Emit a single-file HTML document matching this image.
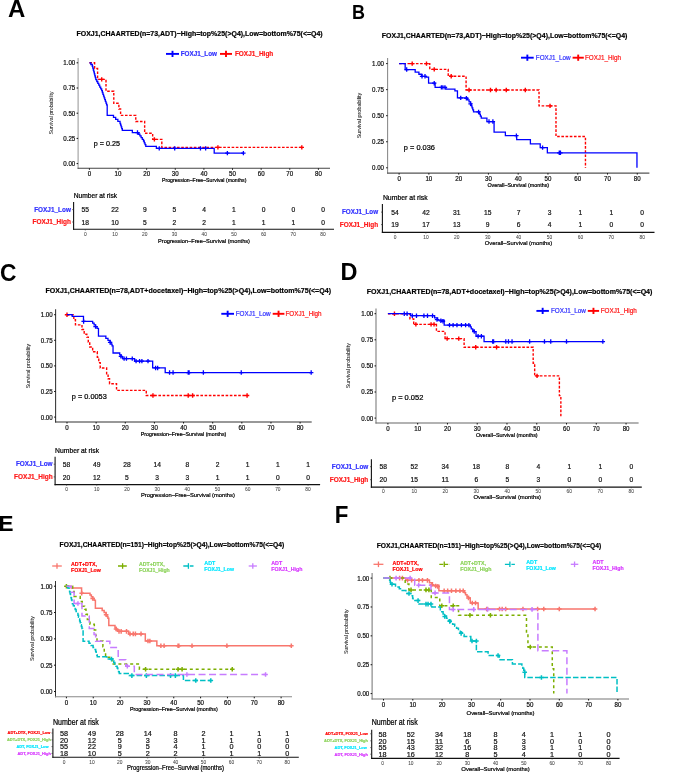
<!DOCTYPE html>
<html><head><meta charset="utf-8"><style>
html,body{margin:0;padding:0;background:#fff;width:685px;height:776px;overflow:hidden}
svg{display:block;font-family:"Liberation Sans", sans-serif;will-change:transform}
text{stroke-linejoin:round}
</style></head><body>
<svg width="685" height="776" viewBox="0 0 685 776">
<rect width="685" height="776" fill="#fff"/>
<text x="8.00" y="16.79" font-size="24.00" text-anchor="start" fill="#000" font-weight="bold" textLength="17.33" lengthAdjust="spacingAndGlyphs">A</text>
<text x="199.60" y="35.90" font-size="7.40" text-anchor="middle" fill="#000" font-weight="bold" textLength="246.20" lengthAdjust="spacingAndGlyphs" stroke="#000" stroke-width="0.2">FOXJ1,CHAARTED(n=73,ADT)−High=top%25(&gt;Q4),Low=bottom%75(&lt;=Q4)</text>
<line x1="166.00" y1="53.90" x2="179.00" y2="53.90" stroke="#0000FF" stroke-width="1.9"/>
<line x1="172.50" y1="50.80" x2="172.50" y2="57.00" stroke="#0000FF" stroke-width="1.9"/>
<text x="180.70" y="56.41" font-size="7.00" text-anchor="start" fill="#3333FF" font-weight="bold" textLength="36.30" lengthAdjust="spacingAndGlyphs" stroke="#3333FF" stroke-width="0.2">FOXJ1_Low</text>
<line x1="220.00" y1="53.90" x2="232.00" y2="53.90" stroke="#FF0000" stroke-width="1.9"/>
<line x1="226.00" y1="50.80" x2="226.00" y2="57.00" stroke="#FF0000" stroke-width="1.9"/>
<text x="234.90" y="56.41" font-size="7.00" text-anchor="start" fill="#FF1A1A" font-weight="bold" textLength="38.40" lengthAdjust="spacingAndGlyphs" stroke="#FF1A1A" stroke-width="0.2">FOXJ1_High</text>
<text transform="translate(53.00,112.90) rotate(-90)" x="0" y="0" font-size="5.15" text-anchor="middle" fill="#222" textLength="43.20" lengthAdjust="spacingAndGlyphs" stroke="#222" stroke-width="0.05">Survival probability</text>
<line x1="78.10" y1="58.00" x2="78.10" y2="168.83" stroke="#999" stroke-width="1.05"/>
<line x1="77.57" y1="168.30" x2="330.00" y2="168.30" stroke="#444" stroke-width="1.05"/>
<line x1="76.60" y1="62.80" x2="78.10" y2="62.80" stroke="#111" stroke-width="1.0"/>
<text x="75.30" y="65.23" font-size="6.80" text-anchor="end" fill="#111" textLength="11.99" lengthAdjust="spacingAndGlyphs" stroke="#111" stroke-width="0.22">1.00</text>
<line x1="76.60" y1="88.00" x2="78.10" y2="88.00" stroke="#111" stroke-width="1.0"/>
<text x="75.30" y="90.43" font-size="6.80" text-anchor="end" fill="#111" textLength="11.99" lengthAdjust="spacingAndGlyphs" stroke="#111" stroke-width="0.22">0.75</text>
<line x1="76.60" y1="113.20" x2="78.10" y2="113.20" stroke="#111" stroke-width="1.0"/>
<text x="75.30" y="115.63" font-size="6.80" text-anchor="end" fill="#111" textLength="11.99" lengthAdjust="spacingAndGlyphs" stroke="#111" stroke-width="0.22">0.50</text>
<line x1="76.60" y1="138.40" x2="78.10" y2="138.40" stroke="#111" stroke-width="1.0"/>
<text x="75.30" y="140.83" font-size="6.80" text-anchor="end" fill="#111" textLength="11.99" lengthAdjust="spacingAndGlyphs" stroke="#111" stroke-width="0.22">0.25</text>
<line x1="76.60" y1="163.60" x2="78.10" y2="163.60" stroke="#111" stroke-width="1.0"/>
<text x="75.30" y="166.03" font-size="6.80" text-anchor="end" fill="#111" textLength="11.99" lengthAdjust="spacingAndGlyphs" stroke="#111" stroke-width="0.22">0.00</text>
<line x1="89.40" y1="168.30" x2="89.40" y2="169.80" stroke="#111" stroke-width="1.0"/>
<text x="89.40" y="175.83" font-size="6.80" text-anchor="middle" fill="#111" textLength="3.43" lengthAdjust="spacingAndGlyphs" stroke="#111" stroke-width="0.22">0</text>
<line x1="118.03" y1="168.30" x2="118.03" y2="169.80" stroke="#111" stroke-width="1.0"/>
<text x="118.03" y="175.83" font-size="6.80" text-anchor="middle" fill="#111" textLength="6.85" lengthAdjust="spacingAndGlyphs" stroke="#111" stroke-width="0.22">10</text>
<line x1="146.65" y1="168.30" x2="146.65" y2="169.80" stroke="#111" stroke-width="1.0"/>
<text x="146.65" y="175.83" font-size="6.80" text-anchor="middle" fill="#111" textLength="6.85" lengthAdjust="spacingAndGlyphs" stroke="#111" stroke-width="0.22">20</text>
<line x1="175.28" y1="168.30" x2="175.28" y2="169.80" stroke="#111" stroke-width="1.0"/>
<text x="175.28" y="175.83" font-size="6.80" text-anchor="middle" fill="#111" textLength="6.85" lengthAdjust="spacingAndGlyphs" stroke="#111" stroke-width="0.22">30</text>
<line x1="203.90" y1="168.30" x2="203.90" y2="169.80" stroke="#111" stroke-width="1.0"/>
<text x="203.90" y="175.83" font-size="6.80" text-anchor="middle" fill="#111" textLength="6.85" lengthAdjust="spacingAndGlyphs" stroke="#111" stroke-width="0.22">40</text>
<line x1="232.53" y1="168.30" x2="232.53" y2="169.80" stroke="#111" stroke-width="1.0"/>
<text x="232.53" y="175.83" font-size="6.80" text-anchor="middle" fill="#111" textLength="6.85" lengthAdjust="spacingAndGlyphs" stroke="#111" stroke-width="0.22">50</text>
<line x1="261.15" y1="168.30" x2="261.15" y2="169.80" stroke="#111" stroke-width="1.0"/>
<text x="261.15" y="175.83" font-size="6.80" text-anchor="middle" fill="#111" textLength="6.85" lengthAdjust="spacingAndGlyphs" stroke="#111" stroke-width="0.22">60</text>
<line x1="289.77" y1="168.30" x2="289.77" y2="169.80" stroke="#111" stroke-width="1.0"/>
<text x="289.77" y="175.83" font-size="6.80" text-anchor="middle" fill="#111" textLength="6.85" lengthAdjust="spacingAndGlyphs" stroke="#111" stroke-width="0.22">70</text>
<line x1="318.40" y1="168.30" x2="318.40" y2="169.80" stroke="#111" stroke-width="1.0"/>
<text x="318.40" y="175.83" font-size="6.80" text-anchor="middle" fill="#111" textLength="6.85" lengthAdjust="spacingAndGlyphs" stroke="#111" stroke-width="0.22">80</text>
<text x="204.20" y="182.00" font-size="5.60" text-anchor="middle" fill="#000" textLength="84.40" lengthAdjust="spacingAndGlyphs" stroke="#000" stroke-width="0.22">Progression–Free–Survival (months)</text>
<text x="93.80" y="146.11" font-size="7.30" text-anchor="start" fill="#000" textLength="26.20" lengthAdjust="spacingAndGlyphs" stroke="#000" stroke-width="0.22">p = 0.25</text>
<path d="M89.40,62.80 L94.61,62.80 L94.61,68.55 L97.59,68.55 L97.59,79.33 L106.00,79.33 L106.00,91.23 L113.79,91.23 L113.79,103.32 L118.88,103.32 L118.88,108.97 L120.60,108.97 L120.60,115.42 L135.77,115.42 L135.77,121.47 L144.65,121.47 L144.65,133.26 L152.66,133.26 L152.66,139.41 L161.82,139.41 L161.82,147.37 L301.80,147.37" fill="none" stroke="#FF0000" stroke-width="1.4" stroke-dasharray="2.6 1.6" stroke-linejoin="miter"/>
<path d="M99.51,79.33H103.91M101.71,77.13V81.53M152.18,139.41H156.58M154.38,137.21V141.61M215.73,147.37H220.13M217.93,145.17V149.57M299.60,147.37H304.00M301.80,145.17V149.57" fill="none" stroke="#FF0000" stroke-width="1.4"/>
<path d="M89.40,62.80 L90.85,62.80 L90.85,64.51 L92.29,64.51 L92.29,66.23 L92.79,66.23 L92.79,68.14 L93.30,68.14 L93.30,70.06 L93.80,70.06 L93.80,71.97 L94.30,71.97 L94.30,73.89 L94.81,73.89 L94.81,75.80 L95.31,75.80 L95.31,77.72 L95.81,77.72 L95.81,79.63 L96.79,79.63 L96.79,81.48 L97.78,81.48 L97.78,83.33 L98.76,83.33 L98.76,85.18 L99.74,85.18 L99.74,87.03 L100.73,87.03 L100.73,88.87 L101.71,88.87 L101.71,90.72 L102.32,90.72 L102.32,92.50 L102.93,92.50 L102.93,94.28 L103.54,94.28 L103.54,96.06 L104.15,96.06 L104.15,97.84 L104.76,97.84 L104.76,99.63 L105.37,99.63 L105.37,101.41 L105.98,101.41 L105.98,103.19 L106.59,103.19 L106.59,104.97 L107.20,104.97 L107.20,106.75 L107.20,115.42 L111.33,115.42 L113.50,115.42 L113.50,117.43 L115.68,117.43 L115.68,119.45 L117.85,119.45 L117.85,121.47 L120.03,121.47 L120.03,123.48 L120.60,123.48 L120.60,125.22 L121.17,125.22 L121.17,126.96 L121.75,126.96 L121.75,128.70 L122.32,128.70 L122.32,130.44 L132.34,130.44 L132.34,132.55 L137.49,132.55 L138.69,132.55 L138.69,134.25 L139.89,134.25 L139.89,135.94 L141.10,135.94 L141.10,137.63 L142.30,137.63 L142.30,139.33 L143.50,139.33 L143.50,141.02 L144.26,141.02 L144.26,142.80 L145.03,142.80 L145.03,144.58 L145.79,144.58 L145.79,146.36 L156.38,146.36 L156.38,148.38 L214.20,148.38 L214.20,153.12 L243.40,153.12" fill="none" stroke="#0000FF" stroke-width="1.3" stroke-linejoin="miter"/>
<path d="M135.29,132.55H139.69M137.49,130.35V134.75M157.05,148.38H161.44M159.25,146.18V150.58M172.50,148.38H176.90M174.70,146.18V150.58M198.26,148.38H202.66M200.46,146.18V150.58M203.42,148.38H207.82M205.62,146.18V150.58M225.17,153.12H229.57M227.37,150.92V155.32M241.20,153.12H245.60M243.40,150.92V155.32" fill="none" stroke="#0000FF" stroke-width="1.3"/>
<text x="73.70" y="197.91" font-size="7.00" text-anchor="start" fill="#000" textLength="43.40" lengthAdjust="spacingAndGlyphs" stroke="#000" stroke-width="0.22">Number at risk</text>
<line x1="73.60" y1="202.00" x2="73.60" y2="229.85" stroke="#111" stroke-width="1.1"/>
<line x1="73.05" y1="229.30" x2="334.00" y2="229.30" stroke="#111" stroke-width="1.1"/>
<text x="70.90" y="211.89" font-size="6.40" text-anchor="end" fill="#3333FF" font-weight="bold" textLength="36.70" lengthAdjust="spacingAndGlyphs" stroke="#3333FF" stroke-width="0.2">FOXJ1_Low</text>
<line x1="72.20" y1="209.60" x2="73.60" y2="209.60" stroke="#333" stroke-width="0.7"/>
<text x="85.30" y="212.25" font-size="7.40" text-anchor="middle" fill="#111" textLength="7.46" lengthAdjust="spacingAndGlyphs" stroke="#111" stroke-width="0.22">55</text>
<text x="115.02" y="212.25" font-size="7.40" text-anchor="middle" fill="#111" textLength="7.46" lengthAdjust="spacingAndGlyphs" stroke="#111" stroke-width="0.22">22</text>
<text x="144.74" y="212.25" font-size="7.40" text-anchor="middle" fill="#111" textLength="3.73" lengthAdjust="spacingAndGlyphs" stroke="#111" stroke-width="0.22">9</text>
<text x="174.46" y="212.25" font-size="7.40" text-anchor="middle" fill="#111" textLength="3.73" lengthAdjust="spacingAndGlyphs" stroke="#111" stroke-width="0.22">5</text>
<text x="204.18" y="212.25" font-size="7.40" text-anchor="middle" fill="#111" textLength="3.73" lengthAdjust="spacingAndGlyphs" stroke="#111" stroke-width="0.22">4</text>
<text x="233.90" y="212.25" font-size="7.40" text-anchor="middle" fill="#111" textLength="3.73" lengthAdjust="spacingAndGlyphs" stroke="#111" stroke-width="0.22">1</text>
<text x="263.62" y="212.25" font-size="7.40" text-anchor="middle" fill="#111" textLength="3.73" lengthAdjust="spacingAndGlyphs" stroke="#111" stroke-width="0.22">0</text>
<text x="293.34" y="212.25" font-size="7.40" text-anchor="middle" fill="#111" textLength="3.73" lengthAdjust="spacingAndGlyphs" stroke="#111" stroke-width="0.22">0</text>
<text x="323.06" y="212.25" font-size="7.40" text-anchor="middle" fill="#111" textLength="3.73" lengthAdjust="spacingAndGlyphs" stroke="#111" stroke-width="0.22">0</text>
<text x="70.90" y="224.29" font-size="6.40" text-anchor="end" fill="#FF1A1A" font-weight="bold" textLength="38.40" lengthAdjust="spacingAndGlyphs" stroke="#FF1A1A" stroke-width="0.2">FOXJ1_High</text>
<line x1="72.20" y1="222.00" x2="73.60" y2="222.00" stroke="#333" stroke-width="0.7"/>
<text x="85.30" y="224.65" font-size="7.40" text-anchor="middle" fill="#111" textLength="7.46" lengthAdjust="spacingAndGlyphs" stroke="#111" stroke-width="0.22">18</text>
<text x="115.02" y="224.65" font-size="7.40" text-anchor="middle" fill="#111" textLength="7.46" lengthAdjust="spacingAndGlyphs" stroke="#111" stroke-width="0.22">10</text>
<text x="144.74" y="224.65" font-size="7.40" text-anchor="middle" fill="#111" textLength="3.73" lengthAdjust="spacingAndGlyphs" stroke="#111" stroke-width="0.22">5</text>
<text x="174.46" y="224.65" font-size="7.40" text-anchor="middle" fill="#111" textLength="3.73" lengthAdjust="spacingAndGlyphs" stroke="#111" stroke-width="0.22">2</text>
<text x="204.18" y="224.65" font-size="7.40" text-anchor="middle" fill="#111" textLength="3.73" lengthAdjust="spacingAndGlyphs" stroke="#111" stroke-width="0.22">2</text>
<text x="233.90" y="224.65" font-size="7.40" text-anchor="middle" fill="#111" textLength="3.73" lengthAdjust="spacingAndGlyphs" stroke="#111" stroke-width="0.22">1</text>
<text x="263.62" y="224.65" font-size="7.40" text-anchor="middle" fill="#111" textLength="3.73" lengthAdjust="spacingAndGlyphs" stroke="#111" stroke-width="0.22">1</text>
<text x="293.34" y="224.65" font-size="7.40" text-anchor="middle" fill="#111" textLength="3.73" lengthAdjust="spacingAndGlyphs" stroke="#111" stroke-width="0.22">1</text>
<text x="323.06" y="224.65" font-size="7.40" text-anchor="middle" fill="#111" textLength="3.73" lengthAdjust="spacingAndGlyphs" stroke="#111" stroke-width="0.22">0</text>
<line x1="85.30" y1="229.30" x2="85.30" y2="230.50" stroke="#333" stroke-width="0.6"/>
<text x="85.30" y="235.53" font-size="5.40" text-anchor="middle" fill="#444" textLength="2.72" lengthAdjust="spacingAndGlyphs" stroke="#444" stroke-width="0.05">0</text>
<line x1="115.02" y1="229.30" x2="115.02" y2="230.50" stroke="#333" stroke-width="0.6"/>
<text x="115.02" y="235.53" font-size="5.40" text-anchor="middle" fill="#444" textLength="5.44" lengthAdjust="spacingAndGlyphs" stroke="#444" stroke-width="0.05">10</text>
<line x1="144.74" y1="229.30" x2="144.74" y2="230.50" stroke="#333" stroke-width="0.6"/>
<text x="144.74" y="235.53" font-size="5.40" text-anchor="middle" fill="#444" textLength="5.44" lengthAdjust="spacingAndGlyphs" stroke="#444" stroke-width="0.05">20</text>
<line x1="174.46" y1="229.30" x2="174.46" y2="230.50" stroke="#333" stroke-width="0.6"/>
<text x="174.46" y="235.53" font-size="5.40" text-anchor="middle" fill="#444" textLength="5.44" lengthAdjust="spacingAndGlyphs" stroke="#444" stroke-width="0.05">30</text>
<line x1="204.18" y1="229.30" x2="204.18" y2="230.50" stroke="#333" stroke-width="0.6"/>
<text x="204.18" y="235.53" font-size="5.40" text-anchor="middle" fill="#444" textLength="5.44" lengthAdjust="spacingAndGlyphs" stroke="#444" stroke-width="0.05">40</text>
<line x1="233.90" y1="229.30" x2="233.90" y2="230.50" stroke="#333" stroke-width="0.6"/>
<text x="233.90" y="235.53" font-size="5.40" text-anchor="middle" fill="#444" textLength="5.44" lengthAdjust="spacingAndGlyphs" stroke="#444" stroke-width="0.05">50</text>
<line x1="263.62" y1="229.30" x2="263.62" y2="230.50" stroke="#333" stroke-width="0.6"/>
<text x="263.62" y="235.53" font-size="5.40" text-anchor="middle" fill="#444" textLength="5.44" lengthAdjust="spacingAndGlyphs" stroke="#444" stroke-width="0.05">60</text>
<line x1="293.34" y1="229.30" x2="293.34" y2="230.50" stroke="#333" stroke-width="0.6"/>
<text x="293.34" y="235.53" font-size="5.40" text-anchor="middle" fill="#444" textLength="5.44" lengthAdjust="spacingAndGlyphs" stroke="#444" stroke-width="0.05">70</text>
<line x1="323.06" y1="229.30" x2="323.06" y2="230.50" stroke="#333" stroke-width="0.6"/>
<text x="323.06" y="235.53" font-size="5.40" text-anchor="middle" fill="#444" textLength="5.44" lengthAdjust="spacingAndGlyphs" stroke="#444" stroke-width="0.05">80</text>
<text x="204.00" y="243.18" font-size="6.10" text-anchor="middle" fill="#000" textLength="92.00" lengthAdjust="spacingAndGlyphs" stroke="#000" stroke-width="0.22">Progression–Free–Survival (months)</text>
<text x="352.00" y="19.41" font-size="20.00" text-anchor="start" fill="#000" font-weight="bold" textLength="13.00" lengthAdjust="spacingAndGlyphs">B</text>
<text x="504.60" y="38.00" font-size="7.40" text-anchor="middle" fill="#000" font-weight="bold" textLength="245.50" lengthAdjust="spacingAndGlyphs" stroke="#000" stroke-width="0.2">FOXJ1,CHAARTED(n=73,ADT)−High=top%25(&gt;Q4),Low=bottom%75(&lt;=Q4)</text>
<line x1="521.00" y1="57.70" x2="533.70" y2="57.70" stroke="#0000FF" stroke-width="1.9"/>
<line x1="527.35" y1="54.60" x2="527.35" y2="60.80" stroke="#0000FF" stroke-width="1.9"/>
<text x="535.80" y="60.21" font-size="7.00" text-anchor="start" fill="#3333FF" textLength="34.80" lengthAdjust="spacingAndGlyphs" stroke="#3333FF" stroke-width="0.22">FOXJ1_Low</text>
<line x1="572.60" y1="57.70" x2="583.80" y2="57.70" stroke="#FF0000" stroke-width="1.9"/>
<line x1="578.20" y1="54.60" x2="578.20" y2="60.80" stroke="#FF0000" stroke-width="1.9"/>
<text x="584.90" y="60.21" font-size="7.00" text-anchor="start" fill="#FF1A1A" textLength="36.10" lengthAdjust="spacingAndGlyphs" stroke="#FF1A1A" stroke-width="0.22">FOXJ1_High</text>
<text transform="translate(360.80,115.50) rotate(-90)" x="0" y="0" font-size="5.40" text-anchor="middle" fill="#222" textLength="45.60" lengthAdjust="spacingAndGlyphs" stroke="#222" stroke-width="0.05">Survival probability</text>
<line x1="387.60" y1="58.00" x2="387.60" y2="173.62" stroke="#888" stroke-width="1.05"/>
<line x1="387.08" y1="173.10" x2="649.40" y2="173.10" stroke="#555" stroke-width="1.05"/>
<line x1="386.10" y1="63.60" x2="387.60" y2="63.60" stroke="#111" stroke-width="1.0"/>
<text x="384.00" y="66.03" font-size="6.80" text-anchor="end" fill="#111" textLength="11.99" lengthAdjust="spacingAndGlyphs" stroke="#111" stroke-width="0.22">1.00</text>
<line x1="386.10" y1="89.65" x2="387.60" y2="89.65" stroke="#111" stroke-width="1.0"/>
<text x="384.00" y="92.08" font-size="6.80" text-anchor="end" fill="#111" textLength="11.99" lengthAdjust="spacingAndGlyphs" stroke="#111" stroke-width="0.22">0.75</text>
<line x1="386.10" y1="115.70" x2="387.60" y2="115.70" stroke="#111" stroke-width="1.0"/>
<text x="384.00" y="118.13" font-size="6.80" text-anchor="end" fill="#111" textLength="11.99" lengthAdjust="spacingAndGlyphs" stroke="#111" stroke-width="0.22">0.50</text>
<line x1="386.10" y1="141.75" x2="387.60" y2="141.75" stroke="#111" stroke-width="1.0"/>
<text x="384.00" y="144.18" font-size="6.80" text-anchor="end" fill="#111" textLength="11.99" lengthAdjust="spacingAndGlyphs" stroke="#111" stroke-width="0.22">0.25</text>
<line x1="386.10" y1="167.80" x2="387.60" y2="167.80" stroke="#111" stroke-width="1.0"/>
<text x="384.00" y="170.23" font-size="6.80" text-anchor="end" fill="#111" textLength="11.99" lengthAdjust="spacingAndGlyphs" stroke="#111" stroke-width="0.22">0.00</text>
<line x1="399.10" y1="173.10" x2="399.10" y2="174.60" stroke="#111" stroke-width="1.0"/>
<text x="399.10" y="181.03" font-size="6.80" text-anchor="middle" fill="#111" textLength="3.43" lengthAdjust="spacingAndGlyphs" stroke="#111" stroke-width="0.22">0</text>
<line x1="428.87" y1="173.10" x2="428.87" y2="174.60" stroke="#111" stroke-width="1.0"/>
<text x="428.87" y="181.03" font-size="6.80" text-anchor="middle" fill="#111" textLength="6.85" lengthAdjust="spacingAndGlyphs" stroke="#111" stroke-width="0.22">10</text>
<line x1="458.64" y1="173.10" x2="458.64" y2="174.60" stroke="#111" stroke-width="1.0"/>
<text x="458.64" y="181.03" font-size="6.80" text-anchor="middle" fill="#111" textLength="6.85" lengthAdjust="spacingAndGlyphs" stroke="#111" stroke-width="0.22">20</text>
<line x1="488.41" y1="173.10" x2="488.41" y2="174.60" stroke="#111" stroke-width="1.0"/>
<text x="488.41" y="181.03" font-size="6.80" text-anchor="middle" fill="#111" textLength="6.85" lengthAdjust="spacingAndGlyphs" stroke="#111" stroke-width="0.22">30</text>
<line x1="518.18" y1="173.10" x2="518.18" y2="174.60" stroke="#111" stroke-width="1.0"/>
<text x="518.18" y="181.03" font-size="6.80" text-anchor="middle" fill="#111" textLength="6.85" lengthAdjust="spacingAndGlyphs" stroke="#111" stroke-width="0.22">40</text>
<line x1="547.95" y1="173.10" x2="547.95" y2="174.60" stroke="#111" stroke-width="1.0"/>
<text x="547.95" y="181.03" font-size="6.80" text-anchor="middle" fill="#111" textLength="6.85" lengthAdjust="spacingAndGlyphs" stroke="#111" stroke-width="0.22">50</text>
<line x1="577.72" y1="173.10" x2="577.72" y2="174.60" stroke="#111" stroke-width="1.0"/>
<text x="577.72" y="181.03" font-size="6.80" text-anchor="middle" fill="#111" textLength="6.85" lengthAdjust="spacingAndGlyphs" stroke="#111" stroke-width="0.22">60</text>
<line x1="607.49" y1="173.10" x2="607.49" y2="174.60" stroke="#111" stroke-width="1.0"/>
<text x="607.49" y="181.03" font-size="6.80" text-anchor="middle" fill="#111" textLength="6.85" lengthAdjust="spacingAndGlyphs" stroke="#111" stroke-width="0.22">70</text>
<line x1="637.26" y1="173.10" x2="637.26" y2="174.60" stroke="#111" stroke-width="1.0"/>
<text x="637.26" y="181.03" font-size="6.80" text-anchor="middle" fill="#111" textLength="6.85" lengthAdjust="spacingAndGlyphs" stroke="#111" stroke-width="0.22">80</text>
<text x="518.30" y="187.00" font-size="5.60" text-anchor="middle" fill="#000" textLength="61.70" lengthAdjust="spacingAndGlyphs" stroke="#000" stroke-width="0.22">Overall–Survival (months)</text>
<text x="403.80" y="150.21" font-size="7.30" text-anchor="start" fill="#000" textLength="31.20" lengthAdjust="spacingAndGlyphs" stroke="#000" stroke-width="0.22">p = 0.036</text>
<path d="M399.10,63.60 L429.76,63.60 L429.76,69.33 L448.22,69.33 L448.22,76.21 L466.08,76.21 L466.08,90.07 L539.02,90.07 L539.02,105.91 L555.99,105.91 L555.99,136.54 L585.46,136.54 L585.46,167.80" fill="none" stroke="#FF0000" stroke-width="1.4" stroke-dasharray="2.6 1.6" stroke-linejoin="miter"/>
<path d="M410.00,63.60H414.40M412.20,61.40V65.80M424.29,63.60H428.69M426.49,61.40V65.80M432.03,69.33H436.43M434.23,67.13V71.53M449.00,76.21H453.40M451.20,74.01V78.41M466.86,90.07H471.26M469.06,87.87V92.27M488.29,90.07H492.69M490.49,87.87V92.27M493.95,90.07H498.35M496.15,87.87V92.27M504.07,90.07H508.47M506.27,87.87V92.27M523.12,90.07H527.52M525.32,87.87V92.27M547.83,105.91H552.23M550.03,103.71V108.11" fill="none" stroke="#FF0000" stroke-width="1.4"/>
<path d="M399.10,63.60 L401.60,63.60 L405.17,63.60 L405.17,66.20 L405.17,69.54 L410.89,69.54 L415.18,69.54 L415.18,72.04 L418.90,72.04 L418.90,74.23 L421.73,74.23 L421.73,76.31 L426.19,76.31 L426.19,77.15 L428.57,77.15 L428.57,83.19 L435.12,83.19 L435.12,87.36 L445.84,87.36 L445.84,89.13 L452.39,89.13 L454.92,89.13 L454.92,90.80 L457.45,90.80 L457.45,92.46 L457.45,97.88 L466.08,97.88 L467.57,97.88 L467.57,99.86 L469.06,99.86 L469.06,101.84 L470.55,101.84 L470.55,103.82 L471.29,103.82 L471.29,105.85 L472.04,105.85 L472.04,107.89 L472.78,107.89 L472.78,109.92 L473.53,109.92 L473.53,111.95 L478.59,111.95 L479.48,111.95 L479.48,114.03 L480.37,114.03 L480.37,116.12 L481.27,116.12 L481.27,118.20 L486.92,118.20 L486.92,121.54 L494.07,121.54 L494.07,132.16 L505.38,132.16 L505.38,135.60 L516.69,135.60 L516.69,139.67 L530.39,139.67 L530.39,143.83 L540.21,143.83 L540.21,147.59 L547.35,147.59 L547.35,152.80 L636.96,152.80 L636.96,167.80" fill="none" stroke="#0000FF" stroke-width="1.3" stroke-linejoin="miter"/>
<path d="M404.49,69.54H408.89M406.69,67.34V71.74M419.82,76.31H424.22M422.02,74.11V78.51M422.80,76.31H427.20M425.00,74.11V78.51M432.03,83.19H436.43M434.23,80.99V85.39M439.17,87.36H443.57M441.37,85.16V89.56M440.66,87.36H445.06M442.86,85.16V89.56M442.75,87.36H447.15M444.95,85.16V89.56M458.52,97.88H462.92M460.72,95.68V100.08M464.18,98.28H468.58M466.38,96.08V100.48M468.35,103.82H472.75M470.55,101.62V106.02M476.39,111.95H480.79M478.59,109.75V114.15M486.81,121.54H491.21M489.01,119.34V123.74M490.68,121.54H495.08M492.88,119.34V123.74M514.19,135.60H518.59M516.39,133.40V137.80M540.39,147.59H544.79M542.59,145.39V149.79M557.06,152.80H561.46M559.26,150.60V155.00M558.25,152.80H562.65M560.45,150.60V155.00" fill="none" stroke="#0000FF" stroke-width="1.3"/>
<text x="382.90" y="200.11" font-size="7.00" text-anchor="start" fill="#000" textLength="44.80" lengthAdjust="spacingAndGlyphs" stroke="#000" stroke-width="0.22">Number at risk</text>
<line x1="382.40" y1="204.00" x2="382.40" y2="232.95" stroke="#111" stroke-width="1.1"/>
<line x1="381.85" y1="232.40" x2="654.50" y2="232.40" stroke="#111" stroke-width="1.1"/>
<text x="378.10" y="214.39" font-size="6.40" text-anchor="end" fill="#3333FF" font-weight="bold" textLength="36.10" lengthAdjust="spacingAndGlyphs" stroke="#3333FF" stroke-width="0.2">FOXJ1_Low</text>
<line x1="381.00" y1="212.10" x2="382.40" y2="212.10" stroke="#333" stroke-width="0.7"/>
<text x="395.00" y="214.75" font-size="7.40" text-anchor="middle" fill="#111" textLength="7.46" lengthAdjust="spacingAndGlyphs" stroke="#111" stroke-width="0.22">54</text>
<text x="425.90" y="214.75" font-size="7.40" text-anchor="middle" fill="#111" textLength="7.46" lengthAdjust="spacingAndGlyphs" stroke="#111" stroke-width="0.22">42</text>
<text x="456.80" y="214.75" font-size="7.40" text-anchor="middle" fill="#111" textLength="7.46" lengthAdjust="spacingAndGlyphs" stroke="#111" stroke-width="0.22">31</text>
<text x="487.70" y="214.75" font-size="7.40" text-anchor="middle" fill="#111" textLength="7.46" lengthAdjust="spacingAndGlyphs" stroke="#111" stroke-width="0.22">15</text>
<text x="518.60" y="214.75" font-size="7.40" text-anchor="middle" fill="#111" textLength="3.73" lengthAdjust="spacingAndGlyphs" stroke="#111" stroke-width="0.22">7</text>
<text x="549.50" y="214.75" font-size="7.40" text-anchor="middle" fill="#111" textLength="3.73" lengthAdjust="spacingAndGlyphs" stroke="#111" stroke-width="0.22">3</text>
<text x="580.40" y="214.75" font-size="7.40" text-anchor="middle" fill="#111" textLength="3.73" lengthAdjust="spacingAndGlyphs" stroke="#111" stroke-width="0.22">1</text>
<text x="611.30" y="214.75" font-size="7.40" text-anchor="middle" fill="#111" textLength="3.73" lengthAdjust="spacingAndGlyphs" stroke="#111" stroke-width="0.22">1</text>
<text x="642.20" y="214.75" font-size="7.40" text-anchor="middle" fill="#111" textLength="3.73" lengthAdjust="spacingAndGlyphs" stroke="#111" stroke-width="0.22">0</text>
<text x="378.10" y="226.89" font-size="6.40" text-anchor="end" fill="#FF1A1A" font-weight="bold" textLength="38.30" lengthAdjust="spacingAndGlyphs" stroke="#FF1A1A" stroke-width="0.2">FOXJ1_High</text>
<line x1="381.00" y1="224.60" x2="382.40" y2="224.60" stroke="#333" stroke-width="0.7"/>
<text x="395.00" y="227.25" font-size="7.40" text-anchor="middle" fill="#111" textLength="7.46" lengthAdjust="spacingAndGlyphs" stroke="#111" stroke-width="0.22">19</text>
<text x="425.90" y="227.25" font-size="7.40" text-anchor="middle" fill="#111" textLength="7.46" lengthAdjust="spacingAndGlyphs" stroke="#111" stroke-width="0.22">17</text>
<text x="456.80" y="227.25" font-size="7.40" text-anchor="middle" fill="#111" textLength="7.46" lengthAdjust="spacingAndGlyphs" stroke="#111" stroke-width="0.22">13</text>
<text x="487.70" y="227.25" font-size="7.40" text-anchor="middle" fill="#111" textLength="3.73" lengthAdjust="spacingAndGlyphs" stroke="#111" stroke-width="0.22">9</text>
<text x="518.60" y="227.25" font-size="7.40" text-anchor="middle" fill="#111" textLength="3.73" lengthAdjust="spacingAndGlyphs" stroke="#111" stroke-width="0.22">6</text>
<text x="549.50" y="227.25" font-size="7.40" text-anchor="middle" fill="#111" textLength="3.73" lengthAdjust="spacingAndGlyphs" stroke="#111" stroke-width="0.22">4</text>
<text x="580.40" y="227.25" font-size="7.40" text-anchor="middle" fill="#111" textLength="3.73" lengthAdjust="spacingAndGlyphs" stroke="#111" stroke-width="0.22">1</text>
<text x="611.30" y="227.25" font-size="7.40" text-anchor="middle" fill="#111" textLength="3.73" lengthAdjust="spacingAndGlyphs" stroke="#111" stroke-width="0.22">0</text>
<text x="642.20" y="227.25" font-size="7.40" text-anchor="middle" fill="#111" textLength="3.73" lengthAdjust="spacingAndGlyphs" stroke="#111" stroke-width="0.22">0</text>
<line x1="395.00" y1="232.40" x2="395.00" y2="233.60" stroke="#333" stroke-width="0.6"/>
<text x="395.00" y="238.83" font-size="5.40" text-anchor="middle" fill="#444" textLength="2.72" lengthAdjust="spacingAndGlyphs" stroke="#444" stroke-width="0.05">0</text>
<line x1="425.90" y1="232.40" x2="425.90" y2="233.60" stroke="#333" stroke-width="0.6"/>
<text x="425.90" y="238.83" font-size="5.40" text-anchor="middle" fill="#444" textLength="5.44" lengthAdjust="spacingAndGlyphs" stroke="#444" stroke-width="0.05">10</text>
<line x1="456.80" y1="232.40" x2="456.80" y2="233.60" stroke="#333" stroke-width="0.6"/>
<text x="456.80" y="238.83" font-size="5.40" text-anchor="middle" fill="#444" textLength="5.44" lengthAdjust="spacingAndGlyphs" stroke="#444" stroke-width="0.05">20</text>
<line x1="487.70" y1="232.40" x2="487.70" y2="233.60" stroke="#333" stroke-width="0.6"/>
<text x="487.70" y="238.83" font-size="5.40" text-anchor="middle" fill="#444" textLength="5.44" lengthAdjust="spacingAndGlyphs" stroke="#444" stroke-width="0.05">30</text>
<line x1="518.60" y1="232.40" x2="518.60" y2="233.60" stroke="#333" stroke-width="0.6"/>
<text x="518.60" y="238.83" font-size="5.40" text-anchor="middle" fill="#444" textLength="5.44" lengthAdjust="spacingAndGlyphs" stroke="#444" stroke-width="0.05">40</text>
<line x1="549.50" y1="232.40" x2="549.50" y2="233.60" stroke="#333" stroke-width="0.6"/>
<text x="549.50" y="238.83" font-size="5.40" text-anchor="middle" fill="#444" textLength="5.44" lengthAdjust="spacingAndGlyphs" stroke="#444" stroke-width="0.05">50</text>
<line x1="580.40" y1="232.40" x2="580.40" y2="233.60" stroke="#333" stroke-width="0.6"/>
<text x="580.40" y="238.83" font-size="5.40" text-anchor="middle" fill="#444" textLength="5.44" lengthAdjust="spacingAndGlyphs" stroke="#444" stroke-width="0.05">60</text>
<line x1="611.30" y1="232.40" x2="611.30" y2="233.60" stroke="#333" stroke-width="0.6"/>
<text x="611.30" y="238.83" font-size="5.40" text-anchor="middle" fill="#444" textLength="5.44" lengthAdjust="spacingAndGlyphs" stroke="#444" stroke-width="0.05">70</text>
<line x1="642.20" y1="232.40" x2="642.20" y2="233.60" stroke="#333" stroke-width="0.6"/>
<text x="642.20" y="238.83" font-size="5.40" text-anchor="middle" fill="#444" textLength="5.44" lengthAdjust="spacingAndGlyphs" stroke="#444" stroke-width="0.05">80</text>
<text x="518.50" y="245.18" font-size="6.10" text-anchor="middle" fill="#000" textLength="67.50" lengthAdjust="spacingAndGlyphs" stroke="#000" stroke-width="0.22">Overall–Survival (months)</text>
<text x="0.00" y="281.29" font-size="24.00" text-anchor="start" fill="#000" font-weight="bold" textLength="16.47" lengthAdjust="spacingAndGlyphs">C</text>
<text x="188.20" y="292.60" font-size="7.40" text-anchor="middle" fill="#000" font-weight="bold" textLength="285.60" lengthAdjust="spacingAndGlyphs" stroke="#000" stroke-width="0.2">FOXJ1,CHAARTED(n=78,ADT+docetaxel)−High=top%25(&gt;Q4),Low=bottom%75(&lt;=Q4)</text>
<line x1="221.30" y1="313.80" x2="234.00" y2="313.80" stroke="#0000FF" stroke-width="1.9"/>
<line x1="227.65" y1="310.70" x2="227.65" y2="316.90" stroke="#0000FF" stroke-width="1.9"/>
<text x="235.70" y="316.31" font-size="7.00" text-anchor="start" fill="#3333FF" textLength="34.90" lengthAdjust="spacingAndGlyphs" stroke="#3333FF" stroke-width="0.22">FOXJ1_Low</text>
<line x1="272.70" y1="313.80" x2="284.40" y2="313.80" stroke="#FF0000" stroke-width="1.9"/>
<line x1="278.55" y1="310.70" x2="278.55" y2="316.90" stroke="#FF0000" stroke-width="1.9"/>
<text x="285.50" y="316.31" font-size="7.00" text-anchor="start" fill="#FF1A1A" textLength="36.10" lengthAdjust="spacingAndGlyphs" stroke="#FF1A1A" stroke-width="0.22">FOXJ1_High</text>
<text transform="translate(30.00,366.10) rotate(-90)" x="0" y="0" font-size="5.30" text-anchor="middle" fill="#222" textLength="44.40" lengthAdjust="spacingAndGlyphs" stroke="#222" stroke-width="0.05">Survival probability</text>
<line x1="55.60" y1="309.20" x2="55.60" y2="422.52" stroke="#333" stroke-width="1.05"/>
<line x1="55.08" y1="422.00" x2="311.70" y2="422.00" stroke="#333" stroke-width="1.05"/>
<line x1="54.10" y1="314.70" x2="55.60" y2="314.70" stroke="#111" stroke-width="1.0"/>
<text x="52.70" y="317.13" font-size="6.80" text-anchor="end" fill="#111" textLength="11.99" lengthAdjust="spacingAndGlyphs" stroke="#111" stroke-width="0.22">1.00</text>
<line x1="54.10" y1="340.30" x2="55.60" y2="340.30" stroke="#111" stroke-width="1.0"/>
<text x="52.70" y="342.73" font-size="6.80" text-anchor="end" fill="#111" textLength="11.99" lengthAdjust="spacingAndGlyphs" stroke="#111" stroke-width="0.22">0.75</text>
<line x1="54.10" y1="365.90" x2="55.60" y2="365.90" stroke="#111" stroke-width="1.0"/>
<text x="52.70" y="368.33" font-size="6.80" text-anchor="end" fill="#111" textLength="11.99" lengthAdjust="spacingAndGlyphs" stroke="#111" stroke-width="0.22">0.50</text>
<line x1="54.10" y1="391.50" x2="55.60" y2="391.50" stroke="#111" stroke-width="1.0"/>
<text x="52.70" y="393.93" font-size="6.80" text-anchor="end" fill="#111" textLength="11.99" lengthAdjust="spacingAndGlyphs" stroke="#111" stroke-width="0.22">0.25</text>
<line x1="54.10" y1="417.10" x2="55.60" y2="417.10" stroke="#111" stroke-width="1.0"/>
<text x="52.70" y="419.53" font-size="6.80" text-anchor="end" fill="#111" textLength="11.99" lengthAdjust="spacingAndGlyphs" stroke="#111" stroke-width="0.22">0.00</text>
<line x1="67.00" y1="422.00" x2="67.00" y2="423.50" stroke="#111" stroke-width="1.0"/>
<text x="67.00" y="429.53" font-size="6.80" text-anchor="middle" fill="#111" textLength="3.43" lengthAdjust="spacingAndGlyphs" stroke="#111" stroke-width="0.22">0</text>
<line x1="96.14" y1="422.00" x2="96.14" y2="423.50" stroke="#111" stroke-width="1.0"/>
<text x="96.14" y="429.53" font-size="6.80" text-anchor="middle" fill="#111" textLength="6.85" lengthAdjust="spacingAndGlyphs" stroke="#111" stroke-width="0.22">10</text>
<line x1="125.28" y1="422.00" x2="125.28" y2="423.50" stroke="#111" stroke-width="1.0"/>
<text x="125.28" y="429.53" font-size="6.80" text-anchor="middle" fill="#111" textLength="6.85" lengthAdjust="spacingAndGlyphs" stroke="#111" stroke-width="0.22">20</text>
<line x1="154.42" y1="422.00" x2="154.42" y2="423.50" stroke="#111" stroke-width="1.0"/>
<text x="154.42" y="429.53" font-size="6.80" text-anchor="middle" fill="#111" textLength="6.85" lengthAdjust="spacingAndGlyphs" stroke="#111" stroke-width="0.22">30</text>
<line x1="183.56" y1="422.00" x2="183.56" y2="423.50" stroke="#111" stroke-width="1.0"/>
<text x="183.56" y="429.53" font-size="6.80" text-anchor="middle" fill="#111" textLength="6.85" lengthAdjust="spacingAndGlyphs" stroke="#111" stroke-width="0.22">40</text>
<line x1="212.70" y1="422.00" x2="212.70" y2="423.50" stroke="#111" stroke-width="1.0"/>
<text x="212.70" y="429.53" font-size="6.80" text-anchor="middle" fill="#111" textLength="6.85" lengthAdjust="spacingAndGlyphs" stroke="#111" stroke-width="0.22">50</text>
<line x1="241.84" y1="422.00" x2="241.84" y2="423.50" stroke="#111" stroke-width="1.0"/>
<text x="241.84" y="429.53" font-size="6.80" text-anchor="middle" fill="#111" textLength="6.85" lengthAdjust="spacingAndGlyphs" stroke="#111" stroke-width="0.22">60</text>
<line x1="270.98" y1="422.00" x2="270.98" y2="423.50" stroke="#111" stroke-width="1.0"/>
<text x="270.98" y="429.53" font-size="6.80" text-anchor="middle" fill="#111" textLength="6.85" lengthAdjust="spacingAndGlyphs" stroke="#111" stroke-width="0.22">70</text>
<line x1="300.12" y1="422.00" x2="300.12" y2="423.50" stroke="#111" stroke-width="1.0"/>
<text x="300.12" y="429.53" font-size="6.80" text-anchor="middle" fill="#111" textLength="6.85" lengthAdjust="spacingAndGlyphs" stroke="#111" stroke-width="0.22">80</text>
<text x="183.60" y="435.50" font-size="5.60" text-anchor="middle" fill="#000" textLength="85.50" lengthAdjust="spacingAndGlyphs" stroke="#000" stroke-width="0.22">Progression–Free–Survival (months)</text>
<text x="71.80" y="399.31" font-size="7.30" text-anchor="start" fill="#000" textLength="35.00" lengthAdjust="spacingAndGlyphs" stroke="#000" stroke-width="0.22">p = 0.0053</text>
<path d="M67.00,314.70 L72.19,314.70 L73.82,314.70 L73.82,319.77 L75.45,319.77 L75.45,324.84 L79.79,324.84 L81.99,324.84 L81.99,329.55 L84.19,329.55 L84.19,334.26 L86.82,334.26 L86.82,337.13 L88.27,337.13 L88.27,342.09 L89.73,342.09 L89.73,347.06 L92.64,347.06 L92.64,351.77 L95.85,351.77 L97.31,351.77 L97.31,357.20 L98.76,357.20 L98.76,362.62 L100.22,362.62 L100.22,368.05 L106.63,368.05 L106.63,373.68 L108.09,373.68 L108.09,378.75 L109.54,378.75 L109.54,383.82 L116.54,383.82 L116.54,390.37 L146.26,390.37 L146.26,395.49 L247.09,395.49" fill="none" stroke="#FF0000" stroke-width="1.4" stroke-dasharray="2.6 1.6" stroke-linejoin="miter"/>
<path d="M64.80,314.70H69.20M67.00,312.50V316.90M150.76,395.49H155.16M152.96,393.29V397.69M186.02,395.49H190.42M188.22,393.29V397.69M190.39,395.49H194.79M192.59,393.29V397.69M244.89,395.49H249.29M247.09,393.29V397.69" fill="none" stroke="#FF0000" stroke-width="1.4"/>
<path d="M67.00,314.70 L72.19,314.70 L72.19,316.34 L83.49,316.34 L83.49,321.46 L91.19,321.46 L92.64,321.46 L92.64,323.18 L94.10,323.18 L94.10,324.90 L95.56,324.90 L95.56,326.62 L97.01,326.62 L97.01,328.34 L98.47,328.34 L98.47,330.06 L98.47,336.20 L103.72,336.20 L105.85,336.20 L105.85,338.29 L107.99,338.29 L107.99,340.37 L110.13,340.37 L110.13,342.45 L111.10,342.45 L111.10,344.12 L112.07,344.12 L112.07,345.80 L113.04,345.80 L113.04,347.47 L113.04,353.00 L118.29,353.00 L119.74,353.00 L119.74,354.87 L121.20,354.87 L121.20,356.75 L122.66,356.75 L122.66,358.63 L132.27,358.63 L134.60,358.63 L134.60,361.09 L152.67,361.09 L152.67,367.95 L165.20,367.95 L165.20,372.56 L311.19,372.56" fill="none" stroke="#0000FF" stroke-width="1.3" stroke-linejoin="miter"/>
<path d="M81.41,321.46H85.81M83.61,319.26V323.66M93.36,326.62H97.76M95.56,324.42V328.82M107.93,342.45H112.33M110.13,340.25V344.65M118.71,356.38H123.11M120.91,354.18V358.58M121.91,358.63H126.31M124.11,356.43V360.83M124.25,358.63H128.65M126.45,356.43V360.83M130.07,358.63H134.47M132.27,356.43V360.83M133.86,361.09H138.26M136.06,358.89V363.29M137.36,361.09H141.76M139.56,358.89V363.29M139.69,361.09H144.09M141.89,358.89V363.29M145.81,361.09H150.21M148.01,358.89V363.29M153.39,367.95H157.79M155.59,365.75V370.15M155.43,367.95H159.83M157.63,365.75V370.15M167.37,372.56H171.77M169.57,370.36V374.76M170.87,372.56H175.27M173.07,370.36V374.76M186.02,372.56H190.42M188.22,370.36V374.76M186.90,372.56H191.30M189.10,370.36V374.76M201.18,372.56H205.58M203.38,370.36V374.76M239.06,372.56H243.46M241.26,370.36V374.76M308.99,372.56H313.39M311.19,370.36V374.76" fill="none" stroke="#0000FF" stroke-width="1.3"/>
<text x="55.10" y="452.81" font-size="7.00" text-anchor="start" fill="#000" textLength="44.00" lengthAdjust="spacingAndGlyphs" stroke="#000" stroke-width="0.22">Number at risk</text>
<line x1="55.10" y1="456.80" x2="55.10" y2="485.15" stroke="#111" stroke-width="1.1"/>
<line x1="54.55" y1="484.60" x2="320.10" y2="484.60" stroke="#111" stroke-width="1.1"/>
<text x="52.60" y="466.49" font-size="6.40" text-anchor="end" fill="#3333FF" font-weight="bold" textLength="36.70" lengthAdjust="spacingAndGlyphs" stroke="#3333FF" stroke-width="0.2">FOXJ1_Low</text>
<line x1="53.70" y1="464.20" x2="55.10" y2="464.20" stroke="#333" stroke-width="0.7"/>
<text x="66.60" y="466.85" font-size="7.40" text-anchor="middle" fill="#111" textLength="7.46" lengthAdjust="spacingAndGlyphs" stroke="#111" stroke-width="0.22">58</text>
<text x="96.78" y="466.85" font-size="7.40" text-anchor="middle" fill="#111" textLength="7.46" lengthAdjust="spacingAndGlyphs" stroke="#111" stroke-width="0.22">49</text>
<text x="126.96" y="466.85" font-size="7.40" text-anchor="middle" fill="#111" textLength="7.46" lengthAdjust="spacingAndGlyphs" stroke="#111" stroke-width="0.22">28</text>
<text x="157.14" y="466.85" font-size="7.40" text-anchor="middle" fill="#111" textLength="7.46" lengthAdjust="spacingAndGlyphs" stroke="#111" stroke-width="0.22">14</text>
<text x="187.32" y="466.85" font-size="7.40" text-anchor="middle" fill="#111" textLength="3.73" lengthAdjust="spacingAndGlyphs" stroke="#111" stroke-width="0.22">8</text>
<text x="217.50" y="466.85" font-size="7.40" text-anchor="middle" fill="#111" textLength="3.73" lengthAdjust="spacingAndGlyphs" stroke="#111" stroke-width="0.22">2</text>
<text x="247.68" y="466.85" font-size="7.40" text-anchor="middle" fill="#111" textLength="3.73" lengthAdjust="spacingAndGlyphs" stroke="#111" stroke-width="0.22">1</text>
<text x="277.86" y="466.85" font-size="7.40" text-anchor="middle" fill="#111" textLength="3.73" lengthAdjust="spacingAndGlyphs" stroke="#111" stroke-width="0.22">1</text>
<text x="308.04" y="466.85" font-size="7.40" text-anchor="middle" fill="#111" textLength="3.73" lengthAdjust="spacingAndGlyphs" stroke="#111" stroke-width="0.22">1</text>
<text x="52.60" y="479.19" font-size="6.40" text-anchor="end" fill="#FF1A1A" font-weight="bold" textLength="38.50" lengthAdjust="spacingAndGlyphs" stroke="#FF1A1A" stroke-width="0.2">FOXJ1_High</text>
<line x1="53.70" y1="476.90" x2="55.10" y2="476.90" stroke="#333" stroke-width="0.7"/>
<text x="66.60" y="479.55" font-size="7.40" text-anchor="middle" fill="#111" textLength="7.46" lengthAdjust="spacingAndGlyphs" stroke="#111" stroke-width="0.22">20</text>
<text x="96.78" y="479.55" font-size="7.40" text-anchor="middle" fill="#111" textLength="7.46" lengthAdjust="spacingAndGlyphs" stroke="#111" stroke-width="0.22">12</text>
<text x="126.96" y="479.55" font-size="7.40" text-anchor="middle" fill="#111" textLength="3.73" lengthAdjust="spacingAndGlyphs" stroke="#111" stroke-width="0.22">5</text>
<text x="157.14" y="479.55" font-size="7.40" text-anchor="middle" fill="#111" textLength="3.73" lengthAdjust="spacingAndGlyphs" stroke="#111" stroke-width="0.22">3</text>
<text x="187.32" y="479.55" font-size="7.40" text-anchor="middle" fill="#111" textLength="3.73" lengthAdjust="spacingAndGlyphs" stroke="#111" stroke-width="0.22">3</text>
<text x="217.50" y="479.55" font-size="7.40" text-anchor="middle" fill="#111" textLength="3.73" lengthAdjust="spacingAndGlyphs" stroke="#111" stroke-width="0.22">1</text>
<text x="247.68" y="479.55" font-size="7.40" text-anchor="middle" fill="#111" textLength="3.73" lengthAdjust="spacingAndGlyphs" stroke="#111" stroke-width="0.22">1</text>
<text x="277.86" y="479.55" font-size="7.40" text-anchor="middle" fill="#111" textLength="3.73" lengthAdjust="spacingAndGlyphs" stroke="#111" stroke-width="0.22">0</text>
<text x="308.04" y="479.55" font-size="7.40" text-anchor="middle" fill="#111" textLength="3.73" lengthAdjust="spacingAndGlyphs" stroke="#111" stroke-width="0.22">0</text>
<line x1="66.60" y1="484.60" x2="66.60" y2="485.80" stroke="#333" stroke-width="0.6"/>
<text x="66.60" y="490.73" font-size="5.40" text-anchor="middle" fill="#444" textLength="2.72" lengthAdjust="spacingAndGlyphs" stroke="#444" stroke-width="0.05">0</text>
<line x1="96.78" y1="484.60" x2="96.78" y2="485.80" stroke="#333" stroke-width="0.6"/>
<text x="96.78" y="490.73" font-size="5.40" text-anchor="middle" fill="#444" textLength="5.44" lengthAdjust="spacingAndGlyphs" stroke="#444" stroke-width="0.05">10</text>
<line x1="126.96" y1="484.60" x2="126.96" y2="485.80" stroke="#333" stroke-width="0.6"/>
<text x="126.96" y="490.73" font-size="5.40" text-anchor="middle" fill="#444" textLength="5.44" lengthAdjust="spacingAndGlyphs" stroke="#444" stroke-width="0.05">20</text>
<line x1="157.14" y1="484.60" x2="157.14" y2="485.80" stroke="#333" stroke-width="0.6"/>
<text x="157.14" y="490.73" font-size="5.40" text-anchor="middle" fill="#444" textLength="5.44" lengthAdjust="spacingAndGlyphs" stroke="#444" stroke-width="0.05">30</text>
<line x1="187.32" y1="484.60" x2="187.32" y2="485.80" stroke="#333" stroke-width="0.6"/>
<text x="187.32" y="490.73" font-size="5.40" text-anchor="middle" fill="#444" textLength="5.44" lengthAdjust="spacingAndGlyphs" stroke="#444" stroke-width="0.05">40</text>
<line x1="217.50" y1="484.60" x2="217.50" y2="485.80" stroke="#333" stroke-width="0.6"/>
<text x="217.50" y="490.73" font-size="5.40" text-anchor="middle" fill="#444" textLength="5.44" lengthAdjust="spacingAndGlyphs" stroke="#444" stroke-width="0.05">50</text>
<line x1="247.68" y1="484.60" x2="247.68" y2="485.80" stroke="#333" stroke-width="0.6"/>
<text x="247.68" y="490.73" font-size="5.40" text-anchor="middle" fill="#444" textLength="5.44" lengthAdjust="spacingAndGlyphs" stroke="#444" stroke-width="0.05">60</text>
<line x1="277.86" y1="484.60" x2="277.86" y2="485.80" stroke="#333" stroke-width="0.6"/>
<text x="277.86" y="490.73" font-size="5.40" text-anchor="middle" fill="#444" textLength="5.44" lengthAdjust="spacingAndGlyphs" stroke="#444" stroke-width="0.05">70</text>
<line x1="308.04" y1="484.60" x2="308.04" y2="485.80" stroke="#333" stroke-width="0.6"/>
<text x="308.04" y="490.73" font-size="5.40" text-anchor="middle" fill="#444" textLength="5.44" lengthAdjust="spacingAndGlyphs" stroke="#444" stroke-width="0.05">80</text>
<text x="187.90" y="496.98" font-size="6.10" text-anchor="middle" fill="#000" textLength="93.90" lengthAdjust="spacingAndGlyphs" stroke="#000" stroke-width="0.22">Progression–Free–Survival (months)</text>
<text x="340.50" y="279.96" font-size="23.50" text-anchor="start" fill="#000" font-weight="bold" textLength="16.97" lengthAdjust="spacingAndGlyphs">D</text>
<text x="509.60" y="294.00" font-size="7.40" text-anchor="middle" fill="#000" font-weight="bold" textLength="285.60" lengthAdjust="spacingAndGlyphs" stroke="#000" stroke-width="0.2">FOXJ1,CHAARTED(n=78,ADT+docetaxel)−High=top%25(&gt;Q4),Low=bottom%75(&lt;=Q4)</text>
<line x1="536.40" y1="310.90" x2="548.90" y2="310.90" stroke="#0000FF" stroke-width="1.9"/>
<line x1="542.65" y1="307.80" x2="542.65" y2="314.00" stroke="#0000FF" stroke-width="1.9"/>
<text x="550.90" y="313.17" font-size="6.35" text-anchor="start" fill="#3333FF" textLength="35.00" lengthAdjust="spacingAndGlyphs" stroke="#3333FF" stroke-width="0.22">FOXJ1_Low</text>
<line x1="587.80" y1="310.90" x2="599.10" y2="310.90" stroke="#FF0000" stroke-width="1.9"/>
<line x1="593.45" y1="307.80" x2="593.45" y2="314.00" stroke="#FF0000" stroke-width="1.9"/>
<text x="600.70" y="313.17" font-size="6.35" text-anchor="start" fill="#FF1A1A" textLength="36.10" lengthAdjust="spacingAndGlyphs" stroke="#FF1A1A" stroke-width="0.22">FOXJ1_High</text>
<text transform="translate(349.60,365.70) rotate(-90)" x="0" y="0" font-size="5.40" text-anchor="middle" fill="#222" textLength="45.20" lengthAdjust="spacingAndGlyphs" stroke="#222" stroke-width="0.05">Survival probability</text>
<line x1="376.00" y1="308.50" x2="376.00" y2="423.52" stroke="#777" stroke-width="1.05"/>
<line x1="375.48" y1="423.00" x2="638.60" y2="423.00" stroke="#666" stroke-width="1.05"/>
<line x1="374.50" y1="313.70" x2="376.00" y2="313.70" stroke="#111" stroke-width="1.0"/>
<text x="373.30" y="316.13" font-size="6.80" text-anchor="end" fill="#111" textLength="11.99" lengthAdjust="spacingAndGlyphs" stroke="#111" stroke-width="0.22">1.00</text>
<line x1="374.50" y1="339.80" x2="376.00" y2="339.80" stroke="#111" stroke-width="1.0"/>
<text x="373.30" y="342.23" font-size="6.80" text-anchor="end" fill="#111" textLength="11.99" lengthAdjust="spacingAndGlyphs" stroke="#111" stroke-width="0.22">0.75</text>
<line x1="374.50" y1="365.90" x2="376.00" y2="365.90" stroke="#111" stroke-width="1.0"/>
<text x="373.30" y="368.33" font-size="6.80" text-anchor="end" fill="#111" textLength="11.99" lengthAdjust="spacingAndGlyphs" stroke="#111" stroke-width="0.22">0.50</text>
<line x1="374.50" y1="392.00" x2="376.00" y2="392.00" stroke="#111" stroke-width="1.0"/>
<text x="373.30" y="394.43" font-size="6.80" text-anchor="end" fill="#111" textLength="11.99" lengthAdjust="spacingAndGlyphs" stroke="#111" stroke-width="0.22">0.25</text>
<line x1="374.50" y1="418.10" x2="376.00" y2="418.10" stroke="#111" stroke-width="1.0"/>
<text x="373.30" y="420.53" font-size="6.80" text-anchor="end" fill="#111" textLength="11.99" lengthAdjust="spacingAndGlyphs" stroke="#111" stroke-width="0.22">0.00</text>
<line x1="387.90" y1="423.00" x2="387.90" y2="424.50" stroke="#111" stroke-width="1.0"/>
<text x="387.90" y="431.23" font-size="6.80" text-anchor="middle" fill="#111" textLength="3.43" lengthAdjust="spacingAndGlyphs" stroke="#111" stroke-width="0.22">0</text>
<line x1="417.67" y1="423.00" x2="417.67" y2="424.50" stroke="#111" stroke-width="1.0"/>
<text x="417.67" y="431.23" font-size="6.80" text-anchor="middle" fill="#111" textLength="6.85" lengthAdjust="spacingAndGlyphs" stroke="#111" stroke-width="0.22">10</text>
<line x1="447.44" y1="423.00" x2="447.44" y2="424.50" stroke="#111" stroke-width="1.0"/>
<text x="447.44" y="431.23" font-size="6.80" text-anchor="middle" fill="#111" textLength="6.85" lengthAdjust="spacingAndGlyphs" stroke="#111" stroke-width="0.22">20</text>
<line x1="477.21" y1="423.00" x2="477.21" y2="424.50" stroke="#111" stroke-width="1.0"/>
<text x="477.21" y="431.23" font-size="6.80" text-anchor="middle" fill="#111" textLength="6.85" lengthAdjust="spacingAndGlyphs" stroke="#111" stroke-width="0.22">30</text>
<line x1="506.98" y1="423.00" x2="506.98" y2="424.50" stroke="#111" stroke-width="1.0"/>
<text x="506.98" y="431.23" font-size="6.80" text-anchor="middle" fill="#111" textLength="6.85" lengthAdjust="spacingAndGlyphs" stroke="#111" stroke-width="0.22">40</text>
<line x1="536.75" y1="423.00" x2="536.75" y2="424.50" stroke="#111" stroke-width="1.0"/>
<text x="536.75" y="431.23" font-size="6.80" text-anchor="middle" fill="#111" textLength="6.85" lengthAdjust="spacingAndGlyphs" stroke="#111" stroke-width="0.22">50</text>
<line x1="566.52" y1="423.00" x2="566.52" y2="424.50" stroke="#111" stroke-width="1.0"/>
<text x="566.52" y="431.23" font-size="6.80" text-anchor="middle" fill="#111" textLength="6.85" lengthAdjust="spacingAndGlyphs" stroke="#111" stroke-width="0.22">60</text>
<line x1="596.29" y1="423.00" x2="596.29" y2="424.50" stroke="#111" stroke-width="1.0"/>
<text x="596.29" y="431.23" font-size="6.80" text-anchor="middle" fill="#111" textLength="6.85" lengthAdjust="spacingAndGlyphs" stroke="#111" stroke-width="0.22">70</text>
<line x1="626.06" y1="423.00" x2="626.06" y2="424.50" stroke="#111" stroke-width="1.0"/>
<text x="626.06" y="431.23" font-size="6.80" text-anchor="middle" fill="#111" textLength="6.85" lengthAdjust="spacingAndGlyphs" stroke="#111" stroke-width="0.22">80</text>
<text x="506.80" y="437.00" font-size="5.60" text-anchor="middle" fill="#000" textLength="61.70" lengthAdjust="spacingAndGlyphs" stroke="#000" stroke-width="0.22">Overall–Survival (months)</text>
<text x="391.90" y="400.11" font-size="7.30" text-anchor="start" fill="#000" textLength="31.50" lengthAdjust="spacingAndGlyphs" stroke="#000" stroke-width="0.22">p = 0.052</text>
<path d="M387.90,313.70 L409.93,313.70 L409.93,318.92 L413.71,318.92 L413.71,324.35 L436.43,324.35 L436.43,331.34 L445.06,331.34 L445.06,338.65 L464.11,338.65 L464.11,347.32 L533.18,347.32 L533.18,363.19 L534.67,363.19 L534.67,375.92 L559.38,375.92 L559.38,395.65 L560.86,395.65 L560.86,418.10" fill="none" stroke="#FF0000" stroke-width="1.4" stroke-dasharray="2.6 1.6" stroke-linejoin="miter"/>
<path d="M392.25,313.70H396.65M394.45,311.50V315.90M413.68,324.35H418.08M415.88,322.15V326.55M428.87,324.35H433.27M431.07,322.15V326.55M431.84,324.35H436.24M434.04,322.15V326.55M444.94,338.65H449.34M447.14,336.45V340.85M456.55,338.65H460.95M458.75,336.45V340.85M473.52,347.32H477.92M475.72,345.12V349.52M494.36,347.32H498.76M496.56,345.12V349.52M534.85,375.92H539.25M537.05,373.72V378.12" fill="none" stroke="#FF0000" stroke-width="1.4"/>
<path d="M387.90,313.70 L410.61,313.70 L410.61,315.68 L432.53,315.68 L434.64,315.68 L434.64,317.88 L437.62,317.88 L437.62,320.07 L444.17,320.07 L444.17,321.53 L444.17,325.08 L469.17,325.08 L470.21,325.08 L470.21,326.96 L471.26,326.96 L471.26,328.84 L472.74,328.84 L472.74,330.25 L474.23,330.25 L474.23,331.66 L476.02,331.66 L476.02,336.25 L484.06,336.25 L484.06,341.57 L602.84,341.57" fill="none" stroke="#0000FF" stroke-width="1.3" stroke-linejoin="miter"/>
<path d="M402.07,313.70H406.47M404.27,311.50V315.90M404.90,313.70H409.30M407.10,311.50V315.90M410.11,315.68H414.51M412.31,313.48V317.88M414.28,315.68H418.68M416.48,313.48V317.88M421.72,315.68H426.12M423.92,313.48V317.88M425.29,315.68H429.69M427.49,313.48V317.88M430.35,315.71H434.75M432.55,313.51V317.91M434.82,319.63H439.22M437.02,317.43V321.83M438.69,320.80H443.09M440.89,318.60V323.00M440.77,321.26H445.17M442.97,319.06V323.46M447.32,325.08H451.72M449.52,322.88V327.28M450.90,325.08H455.30M453.10,322.88V327.28M454.77,325.08H459.17M456.97,322.88V327.28M459.23,325.08H463.63M461.43,322.88V327.28M463.40,325.08H467.80M465.60,322.88V327.28M466.67,325.08H471.07M468.87,322.88V327.28M472.03,331.66H476.43M474.23,329.46V333.86M475.90,336.25H480.30M478.10,334.05V338.45M479.18,336.25H483.58M481.38,334.05V338.45M490.49,341.57H494.89M492.69,339.37V343.77M491.38,341.57H495.78M493.58,339.37V343.77M503.59,341.57H507.99M505.79,339.37V343.77M506.27,341.57H510.67M508.47,339.37V343.77M509.84,341.57H514.24M512.04,339.37V343.77M527.41,341.57H531.81M529.61,339.37V343.77M542.29,341.57H546.69M544.49,339.37V343.77M548.54,341.57H552.94M550.74,339.37V343.77M564.32,341.57H568.72M566.52,339.37V343.77M600.64,341.57H605.04M602.84,339.37V343.77" fill="none" stroke="#0000FF" stroke-width="1.3"/>
<line x1="371.40" y1="459.30" x2="371.40" y2="487.65" stroke="#111" stroke-width="1.1"/>
<line x1="370.85" y1="487.10" x2="641.80" y2="487.10" stroke="#111" stroke-width="1.1"/>
<text x="368.30" y="468.99" font-size="6.40" text-anchor="end" fill="#3333FF" font-weight="bold" textLength="36.50" lengthAdjust="spacingAndGlyphs" stroke="#3333FF" stroke-width="0.2">FOXJ1_Low</text>
<line x1="370.00" y1="466.70" x2="371.40" y2="466.70" stroke="#333" stroke-width="0.7"/>
<text x="383.30" y="469.35" font-size="7.40" text-anchor="middle" fill="#111" textLength="7.46" lengthAdjust="spacingAndGlyphs" stroke="#111" stroke-width="0.22">58</text>
<text x="414.30" y="469.35" font-size="7.40" text-anchor="middle" fill="#111" textLength="7.46" lengthAdjust="spacingAndGlyphs" stroke="#111" stroke-width="0.22">52</text>
<text x="445.30" y="469.35" font-size="7.40" text-anchor="middle" fill="#111" textLength="7.46" lengthAdjust="spacingAndGlyphs" stroke="#111" stroke-width="0.22">34</text>
<text x="476.30" y="469.35" font-size="7.40" text-anchor="middle" fill="#111" textLength="7.46" lengthAdjust="spacingAndGlyphs" stroke="#111" stroke-width="0.22">18</text>
<text x="507.30" y="469.35" font-size="7.40" text-anchor="middle" fill="#111" textLength="3.73" lengthAdjust="spacingAndGlyphs" stroke="#111" stroke-width="0.22">8</text>
<text x="538.30" y="469.35" font-size="7.40" text-anchor="middle" fill="#111" textLength="3.73" lengthAdjust="spacingAndGlyphs" stroke="#111" stroke-width="0.22">4</text>
<text x="569.30" y="469.35" font-size="7.40" text-anchor="middle" fill="#111" textLength="3.73" lengthAdjust="spacingAndGlyphs" stroke="#111" stroke-width="0.22">1</text>
<text x="600.30" y="469.35" font-size="7.40" text-anchor="middle" fill="#111" textLength="3.73" lengthAdjust="spacingAndGlyphs" stroke="#111" stroke-width="0.22">1</text>
<text x="631.30" y="469.35" font-size="7.40" text-anchor="middle" fill="#111" textLength="3.73" lengthAdjust="spacingAndGlyphs" stroke="#111" stroke-width="0.22">0</text>
<text x="368.30" y="481.99" font-size="6.40" text-anchor="end" fill="#FF1A1A" font-weight="bold" textLength="38.50" lengthAdjust="spacingAndGlyphs" stroke="#FF1A1A" stroke-width="0.2">FOXJ1_High</text>
<line x1="370.00" y1="479.70" x2="371.40" y2="479.70" stroke="#333" stroke-width="0.7"/>
<text x="383.30" y="482.35" font-size="7.40" text-anchor="middle" fill="#111" textLength="7.46" lengthAdjust="spacingAndGlyphs" stroke="#111" stroke-width="0.22">20</text>
<text x="414.30" y="482.35" font-size="7.40" text-anchor="middle" fill="#111" textLength="7.46" lengthAdjust="spacingAndGlyphs" stroke="#111" stroke-width="0.22">15</text>
<text x="445.30" y="482.35" font-size="7.40" text-anchor="middle" fill="#111" textLength="7.46" lengthAdjust="spacingAndGlyphs" stroke="#111" stroke-width="0.22">11</text>
<text x="476.30" y="482.35" font-size="7.40" text-anchor="middle" fill="#111" textLength="3.73" lengthAdjust="spacingAndGlyphs" stroke="#111" stroke-width="0.22">6</text>
<text x="507.30" y="482.35" font-size="7.40" text-anchor="middle" fill="#111" textLength="3.73" lengthAdjust="spacingAndGlyphs" stroke="#111" stroke-width="0.22">5</text>
<text x="538.30" y="482.35" font-size="7.40" text-anchor="middle" fill="#111" textLength="3.73" lengthAdjust="spacingAndGlyphs" stroke="#111" stroke-width="0.22">3</text>
<text x="569.30" y="482.35" font-size="7.40" text-anchor="middle" fill="#111" textLength="3.73" lengthAdjust="spacingAndGlyphs" stroke="#111" stroke-width="0.22">0</text>
<text x="600.30" y="482.35" font-size="7.40" text-anchor="middle" fill="#111" textLength="3.73" lengthAdjust="spacingAndGlyphs" stroke="#111" stroke-width="0.22">0</text>
<text x="631.30" y="482.35" font-size="7.40" text-anchor="middle" fill="#111" textLength="3.73" lengthAdjust="spacingAndGlyphs" stroke="#111" stroke-width="0.22">0</text>
<line x1="383.30" y1="487.10" x2="383.30" y2="488.30" stroke="#333" stroke-width="0.6"/>
<text x="383.30" y="493.43" font-size="5.40" text-anchor="middle" fill="#444" textLength="2.72" lengthAdjust="spacingAndGlyphs" stroke="#444" stroke-width="0.05">0</text>
<line x1="414.30" y1="487.10" x2="414.30" y2="488.30" stroke="#333" stroke-width="0.6"/>
<text x="414.30" y="493.43" font-size="5.40" text-anchor="middle" fill="#444" textLength="5.44" lengthAdjust="spacingAndGlyphs" stroke="#444" stroke-width="0.05">10</text>
<line x1="445.30" y1="487.10" x2="445.30" y2="488.30" stroke="#333" stroke-width="0.6"/>
<text x="445.30" y="493.43" font-size="5.40" text-anchor="middle" fill="#444" textLength="5.44" lengthAdjust="spacingAndGlyphs" stroke="#444" stroke-width="0.05">20</text>
<line x1="476.30" y1="487.10" x2="476.30" y2="488.30" stroke="#333" stroke-width="0.6"/>
<text x="476.30" y="493.43" font-size="5.40" text-anchor="middle" fill="#444" textLength="5.44" lengthAdjust="spacingAndGlyphs" stroke="#444" stroke-width="0.05">30</text>
<line x1="507.30" y1="487.10" x2="507.30" y2="488.30" stroke="#333" stroke-width="0.6"/>
<text x="507.30" y="493.43" font-size="5.40" text-anchor="middle" fill="#444" textLength="5.44" lengthAdjust="spacingAndGlyphs" stroke="#444" stroke-width="0.05">40</text>
<line x1="538.30" y1="487.10" x2="538.30" y2="488.30" stroke="#333" stroke-width="0.6"/>
<text x="538.30" y="493.43" font-size="5.40" text-anchor="middle" fill="#444" textLength="5.44" lengthAdjust="spacingAndGlyphs" stroke="#444" stroke-width="0.05">50</text>
<line x1="569.30" y1="487.10" x2="569.30" y2="488.30" stroke="#333" stroke-width="0.6"/>
<text x="569.30" y="493.43" font-size="5.40" text-anchor="middle" fill="#444" textLength="5.44" lengthAdjust="spacingAndGlyphs" stroke="#444" stroke-width="0.05">60</text>
<line x1="600.30" y1="487.10" x2="600.30" y2="488.30" stroke="#333" stroke-width="0.6"/>
<text x="600.30" y="493.43" font-size="5.40" text-anchor="middle" fill="#444" textLength="5.44" lengthAdjust="spacingAndGlyphs" stroke="#444" stroke-width="0.05">70</text>
<line x1="631.30" y1="487.10" x2="631.30" y2="488.30" stroke="#333" stroke-width="0.6"/>
<text x="631.30" y="493.43" font-size="5.40" text-anchor="middle" fill="#444" textLength="5.44" lengthAdjust="spacingAndGlyphs" stroke="#444" stroke-width="0.05">80</text>
<text x="507.30" y="499.48" font-size="6.10" text-anchor="middle" fill="#000" textLength="67.50" lengthAdjust="spacingAndGlyphs" stroke="#000" stroke-width="0.22">Overall–Survival (months)</text>
<text x="-1.50" y="531.05" font-size="22.50" text-anchor="start" fill="#000" font-weight="bold" textLength="15.01" lengthAdjust="spacingAndGlyphs">E</text>
<text x="171.90" y="547.15" font-size="7.40" text-anchor="middle" fill="#000" font-weight="bold" textLength="224.60" lengthAdjust="spacingAndGlyphs" stroke="#000" stroke-width="0.2">FOXJ1,CHAARTED(n=151)−High=top%25(&gt;Q4),Low=bottom%75(&lt;=Q4)</text>
<line x1="52.20" y1="566.00" x2="61.80" y2="566.00" stroke="#F8766D" stroke-width="1.3"/>
<line x1="57.00" y1="563.20" x2="57.00" y2="568.80" stroke="#F8766D" stroke-width="1.3"/>
<text x="71.00" y="566.35" font-size="6.00" text-anchor="start" fill="#FF0000" font-weight="bold" textLength="26.10" lengthAdjust="spacingAndGlyphs" stroke="#FF0000" stroke-width="0.2">ADT+DTX,</text>
<text x="71.00" y="572.45" font-size="6.00" text-anchor="start" fill="#FF0000" font-weight="bold" textLength="29.80" lengthAdjust="spacingAndGlyphs" stroke="#FF0000" stroke-width="0.2">FOXJ1_Low</text>
<line x1="118.00" y1="566.00" x2="127.20" y2="566.00" stroke="#7CAE00" stroke-width="1.3" stroke-dasharray="4 0.8"/>
<line x1="122.60" y1="563.20" x2="122.60" y2="568.80" stroke="#7CAE00" stroke-width="1.3"/>
<text x="139.00" y="566.35" font-size="6.00" text-anchor="start" fill="#8CD35A" font-weight="bold" textLength="25.60" lengthAdjust="spacingAndGlyphs" stroke="#8CD35A" stroke-width="0.2">ADT+DTX,</text>
<text x="139.00" y="572.45" font-size="6.00" text-anchor="start" fill="#8CD35A" font-weight="bold" textLength="30.70" lengthAdjust="spacingAndGlyphs" stroke="#8CD35A" stroke-width="0.2">FOXJ1_High</text>
<line x1="183.30" y1="566.00" x2="193.50" y2="566.00" stroke="#00BFC4" stroke-width="1.3" stroke-dasharray="5 1.5"/>
<line x1="188.40" y1="563.20" x2="188.40" y2="568.80" stroke="#00BFC4" stroke-width="1.3"/>
<text x="204.30" y="565.05" font-size="6.00" text-anchor="start" fill="#00E6FF" font-weight="bold" textLength="11.00" lengthAdjust="spacingAndGlyphs" stroke="#00E6FF" stroke-width="0.2">ADT</text>
<text x="204.30" y="570.95" font-size="6.00" text-anchor="start" fill="#00E6FF" font-weight="bold" textLength="29.70" lengthAdjust="spacingAndGlyphs" stroke="#00E6FF" stroke-width="0.2">FOXJ1_Low</text>
<line x1="248.70" y1="566.00" x2="256.90" y2="566.00" stroke="#C77CFF" stroke-width="1.3"/>
<line x1="252.80" y1="563.20" x2="252.80" y2="568.80" stroke="#C77CFF" stroke-width="1.3"/>
<text x="271.20" y="565.05" font-size="6.00" text-anchor="start" fill="#D633FF" font-weight="bold" textLength="11.00" lengthAdjust="spacingAndGlyphs" stroke="#D633FF" stroke-width="0.2">ADT</text>
<text x="271.20" y="570.95" font-size="6.00" text-anchor="start" fill="#D633FF" font-weight="bold" textLength="31.20" lengthAdjust="spacingAndGlyphs" stroke="#D633FF" stroke-width="0.2">FOXJ1_High</text>
<text transform="translate(33.50,638.60) rotate(-90)" x="0" y="0" font-size="5.35" text-anchor="middle" fill="#222" textLength="44.80" lengthAdjust="spacingAndGlyphs" stroke="#222" stroke-width="0.05">Survival probability</text>
<line x1="55.50" y1="581.00" x2="55.50" y2="697.32" stroke="#333" stroke-width="1.05"/>
<line x1="54.98" y1="696.80" x2="292.00" y2="696.80" stroke="#888" stroke-width="1.05"/>
<line x1="54.00" y1="586.20" x2="55.50" y2="586.20" stroke="#111" stroke-width="1.0"/>
<text x="52.50" y="588.63" font-size="6.80" text-anchor="end" fill="#111" textLength="11.99" lengthAdjust="spacingAndGlyphs" stroke="#111" stroke-width="0.22">1.00</text>
<line x1="54.00" y1="612.53" x2="55.50" y2="612.53" stroke="#111" stroke-width="1.0"/>
<text x="52.50" y="614.96" font-size="6.80" text-anchor="end" fill="#111" textLength="11.99" lengthAdjust="spacingAndGlyphs" stroke="#111" stroke-width="0.22">0.75</text>
<line x1="54.00" y1="638.85" x2="55.50" y2="638.85" stroke="#111" stroke-width="1.0"/>
<text x="52.50" y="641.28" font-size="6.80" text-anchor="end" fill="#111" textLength="11.99" lengthAdjust="spacingAndGlyphs" stroke="#111" stroke-width="0.22">0.50</text>
<line x1="54.00" y1="665.18" x2="55.50" y2="665.18" stroke="#111" stroke-width="1.0"/>
<text x="52.50" y="667.61" font-size="6.80" text-anchor="end" fill="#111" textLength="11.99" lengthAdjust="spacingAndGlyphs" stroke="#111" stroke-width="0.22">0.25</text>
<line x1="54.00" y1="691.50" x2="55.50" y2="691.50" stroke="#111" stroke-width="1.0"/>
<text x="52.50" y="693.93" font-size="6.80" text-anchor="end" fill="#111" textLength="11.99" lengthAdjust="spacingAndGlyphs" stroke="#111" stroke-width="0.22">0.00</text>
<line x1="66.40" y1="696.80" x2="66.40" y2="698.30" stroke="#111" stroke-width="1.0"/>
<text x="66.40" y="704.53" font-size="6.80" text-anchor="middle" fill="#111" textLength="3.43" lengthAdjust="spacingAndGlyphs" stroke="#111" stroke-width="0.22">0</text>
<line x1="93.24" y1="696.80" x2="93.24" y2="698.30" stroke="#111" stroke-width="1.0"/>
<text x="93.24" y="704.53" font-size="6.80" text-anchor="middle" fill="#111" textLength="6.85" lengthAdjust="spacingAndGlyphs" stroke="#111" stroke-width="0.22">10</text>
<line x1="120.08" y1="696.80" x2="120.08" y2="698.30" stroke="#111" stroke-width="1.0"/>
<text x="120.08" y="704.53" font-size="6.80" text-anchor="middle" fill="#111" textLength="6.85" lengthAdjust="spacingAndGlyphs" stroke="#111" stroke-width="0.22">20</text>
<line x1="146.92" y1="696.80" x2="146.92" y2="698.30" stroke="#111" stroke-width="1.0"/>
<text x="146.92" y="704.53" font-size="6.80" text-anchor="middle" fill="#111" textLength="6.85" lengthAdjust="spacingAndGlyphs" stroke="#111" stroke-width="0.22">30</text>
<line x1="173.76" y1="696.80" x2="173.76" y2="698.30" stroke="#111" stroke-width="1.0"/>
<text x="173.76" y="704.53" font-size="6.80" text-anchor="middle" fill="#111" textLength="6.85" lengthAdjust="spacingAndGlyphs" stroke="#111" stroke-width="0.22">40</text>
<line x1="200.60" y1="696.80" x2="200.60" y2="698.30" stroke="#111" stroke-width="1.0"/>
<text x="200.60" y="704.53" font-size="6.80" text-anchor="middle" fill="#111" textLength="6.85" lengthAdjust="spacingAndGlyphs" stroke="#111" stroke-width="0.22">50</text>
<line x1="227.44" y1="696.80" x2="227.44" y2="698.30" stroke="#111" stroke-width="1.0"/>
<text x="227.44" y="704.53" font-size="6.80" text-anchor="middle" fill="#111" textLength="6.85" lengthAdjust="spacingAndGlyphs" stroke="#111" stroke-width="0.22">60</text>
<line x1="254.28" y1="696.80" x2="254.28" y2="698.30" stroke="#111" stroke-width="1.0"/>
<text x="254.28" y="704.53" font-size="6.80" text-anchor="middle" fill="#111" textLength="6.85" lengthAdjust="spacingAndGlyphs" stroke="#111" stroke-width="0.22">70</text>
<line x1="281.12" y1="696.80" x2="281.12" y2="698.30" stroke="#111" stroke-width="1.0"/>
<text x="281.12" y="704.53" font-size="6.80" text-anchor="middle" fill="#111" textLength="6.85" lengthAdjust="spacingAndGlyphs" stroke="#111" stroke-width="0.22">80</text>
<text x="173.90" y="710.98" font-size="5.80" text-anchor="middle" fill="#000" textLength="87.90" lengthAdjust="spacingAndGlyphs" stroke="#000" stroke-width="0.22">Progression–Free–Survival (months)</text>
<path d="M66.40,586.20 L71.18,586.20 L71.18,587.88 L81.59,587.88 L81.59,593.15 L88.68,593.15 L90.02,593.15 L90.02,594.92 L91.36,594.92 L91.36,596.69 L92.70,596.69 L92.70,598.46 L94.05,598.46 L94.05,600.23 L95.39,600.23 L95.39,602.00 L95.39,608.31 L100.22,608.31 L102.19,608.31 L102.19,610.45 L104.15,610.45 L104.15,612.60 L106.12,612.60 L106.12,614.74 L107.02,614.74 L107.02,616.46 L107.91,616.46 L107.91,618.18 L108.81,618.18 L108.81,619.90 L108.81,625.58 L113.64,625.58 L114.98,625.58 L114.98,627.51 L116.32,627.51 L116.32,629.44 L117.66,629.44 L117.66,631.37 L126.52,631.37 L128.67,631.37 L128.67,633.90 L145.31,633.90 L145.31,640.96 L156.85,640.96 L156.85,645.69 L291.32,645.69" fill="none" stroke="#F8766D" stroke-width="1.5" stroke-linejoin="miter"/>
<path d="M79.40,593.15H84.00M81.70,590.85V595.45M90.40,598.46H95.00M92.70,596.16V600.76M103.82,614.74H108.42M106.12,612.44V617.04M113.75,629.06H118.35M116.05,626.76V631.36M116.71,631.37H121.31M119.01,629.07V633.67M118.85,631.37H123.45M121.15,629.07V633.67M124.22,631.37H128.82M126.52,629.07V633.67M127.71,633.90H132.31M130.01,631.60V636.20M130.93,633.90H135.53M133.23,631.60V636.20M133.08,633.90H137.68M135.38,631.60V636.20M138.72,633.90H143.32M141.02,631.60V636.20M145.69,640.96H150.29M147.99,638.66V643.26M147.57,640.96H152.17M149.87,638.66V643.26M158.58,645.69H163.18M160.88,643.39V647.99M161.80,645.69H166.40M164.10,643.39V647.99M175.75,645.69H180.35M178.05,643.39V647.99M176.56,645.69H181.16M178.86,643.39V647.99M189.71,645.69H194.31M192.01,643.39V647.99M224.60,645.69H229.20M226.90,643.39V647.99M289.02,645.69H293.62M291.32,643.39V647.99" fill="none" stroke="#F8766D" stroke-width="1.5"/>
<path d="M66.40,586.20 L71.18,586.20 L72.68,586.20 L72.68,591.41 L74.18,591.41 L74.18,596.62 L78.18,596.62 L80.21,596.62 L80.21,601.47 L82.24,601.47 L82.24,606.31 L84.65,606.31 L84.65,609.26 L85.99,609.26 L85.99,614.37 L87.34,614.37 L87.34,619.47 L90.02,619.47 L90.02,624.32 L92.97,624.32 L94.31,624.32 L94.31,629.90 L95.66,629.90 L95.66,635.48 L97.00,635.48 L97.00,641.06 L102.90,641.06 L102.90,646.85 L104.24,646.85 L104.24,652.07 L105.59,652.07 L105.59,657.28 L112.03,657.28 L112.03,664.02 L139.40,664.02 L139.40,669.28 L232.27,669.28" fill="none" stroke="#7CAE00" stroke-width="1.5" stroke-dasharray="3 2.9" stroke-linejoin="miter"/>
<path d="M64.10,586.20H68.70M66.40,583.90V588.50M143.28,669.28H147.88M145.58,666.98V671.58M175.75,669.28H180.35M178.05,666.98V671.58M179.78,669.28H184.38M182.08,666.98V671.58M229.97,669.28H234.57M232.27,666.98V671.58" fill="none" stroke="#7CAE00" stroke-width="1.5"/>
<path d="M66.40,586.20 L67.76,586.20 L67.76,587.99 L69.11,587.99 L69.11,589.78 L69.58,589.78 L69.58,591.78 L70.05,591.78 L70.05,593.78 L70.53,593.78 L70.53,595.78 L71.00,595.78 L71.00,597.78 L71.47,597.78 L71.47,599.78 L71.94,599.78 L71.94,601.78 L72.41,601.78 L72.41,603.79 L73.33,603.79 L73.33,605.72 L74.26,605.72 L74.26,607.65 L75.18,607.65 L75.18,609.58 L76.10,609.58 L76.10,611.51 L77.02,611.51 L77.02,613.44 L77.94,613.44 L77.94,615.37 L78.51,615.37 L78.51,617.23 L79.09,617.23 L79.09,619.09 L79.66,619.09 L79.66,620.95 L80.23,620.95 L80.23,622.81 L80.80,622.81 L80.80,624.67 L81.38,624.67 L81.38,626.53 L81.95,626.53 L81.95,628.39 L82.52,628.39 L82.52,630.25 L83.09,630.25 L83.09,632.11 L83.09,641.17 L86.96,641.17 L89.00,641.17 L89.00,643.27 L91.04,643.27 L91.04,645.38 L93.08,645.38 L93.08,647.48 L95.12,647.48 L95.12,649.59 L95.66,649.59 L95.66,651.41 L96.19,651.41 L96.19,653.22 L96.73,653.22 L96.73,655.04 L97.27,655.04 L97.27,656.86 L106.66,656.86 L106.66,659.07 L111.49,659.07 L112.62,659.07 L112.62,660.84 L113.75,660.84 L113.75,662.61 L114.87,662.61 L114.87,664.37 L116.00,664.37 L116.00,666.14 L117.13,666.14 L117.13,667.91 L117.84,667.91 L117.84,669.77 L118.56,669.77 L118.56,671.63 L119.27,671.63 L119.27,673.49 L129.21,673.49 L129.21,675.60 L183.42,675.60 L183.42,680.55 L210.80,680.55" fill="none" stroke="#00BFC4" stroke-width="1.5" stroke-dasharray="5.5 2.1" stroke-linejoin="miter"/>
<path d="M109.19,659.07H113.79M111.49,656.77V661.37M129.59,675.60H134.19M131.89,673.30V677.90M144.08,675.60H148.68M146.38,673.30V677.90M168.24,675.60H172.84M170.54,673.30V677.90M173.07,675.60H177.67M175.37,673.30V677.90M193.47,680.55H198.07M195.77,678.25V682.85M208.50,680.55H213.10M210.80,678.25V682.85" fill="none" stroke="#00BFC4" stroke-width="1.5"/>
<path d="M66.40,586.20 L71.28,586.20 L71.28,592.20 L74.08,592.20 L74.08,603.47 L81.97,603.47 L81.97,615.89 L89.27,615.89 L89.27,628.53 L94.05,628.53 L94.05,634.43 L95.66,634.43 L95.66,641.17 L109.88,641.17 L109.88,647.48 L118.20,647.48 L118.20,659.80 L125.72,659.80 L125.72,666.23 L134.31,666.23 L134.31,674.55 L265.55,674.55" fill="none" stroke="#C77CFF" stroke-width="1.5" stroke-dasharray="7 3.5" stroke-linejoin="miter"/>
<path d="M75.64,603.47H80.24M77.94,601.17V605.77M125.03,666.23H129.63M127.33,663.93V668.53M184.61,674.55H189.21M186.91,672.25V676.85M263.25,674.55H267.85M265.55,672.25V676.85" fill="none" stroke="#C77CFF" stroke-width="1.5"/>
<text x="52.90" y="724.94" font-size="8.20" text-anchor="start" fill="#000" textLength="46.00" lengthAdjust="spacingAndGlyphs" stroke="#000" stroke-width="0.22">Number at risk</text>
<line x1="52.90" y1="728.60" x2="52.90" y2="757.85" stroke="#111" stroke-width="1.1"/>
<line x1="52.35" y1="757.30" x2="298.80" y2="757.30" stroke="#111" stroke-width="1.1"/>
<text x="50.20" y="734.43" font-size="4.00" text-anchor="end" fill="#FF0000" font-weight="bold" textLength="42.60" lengthAdjust="spacingAndGlyphs" stroke="#FF0000" stroke-width="0.2">ADT+DTX, FOXJ1_Low</text>
<line x1="51.50" y1="733.00" x2="52.90" y2="733.00" stroke="#333" stroke-width="0.7"/>
<text x="64.00" y="735.86" font-size="8.00" text-anchor="middle" fill="#111" textLength="8.06" lengthAdjust="spacingAndGlyphs" stroke="#111" stroke-width="0.22">58</text>
<text x="91.90" y="735.86" font-size="8.00" text-anchor="middle" fill="#111" textLength="8.06" lengthAdjust="spacingAndGlyphs" stroke="#111" stroke-width="0.22">49</text>
<text x="119.80" y="735.86" font-size="8.00" text-anchor="middle" fill="#111" textLength="8.06" lengthAdjust="spacingAndGlyphs" stroke="#111" stroke-width="0.22">28</text>
<text x="147.70" y="735.86" font-size="8.00" text-anchor="middle" fill="#111" textLength="8.06" lengthAdjust="spacingAndGlyphs" stroke="#111" stroke-width="0.22">14</text>
<text x="175.60" y="735.86" font-size="8.00" text-anchor="middle" fill="#111" textLength="4.03" lengthAdjust="spacingAndGlyphs" stroke="#111" stroke-width="0.22">8</text>
<text x="203.50" y="735.86" font-size="8.00" text-anchor="middle" fill="#111" textLength="4.03" lengthAdjust="spacingAndGlyphs" stroke="#111" stroke-width="0.22">2</text>
<text x="231.40" y="735.86" font-size="8.00" text-anchor="middle" fill="#111" textLength="4.03" lengthAdjust="spacingAndGlyphs" stroke="#111" stroke-width="0.22">1</text>
<text x="259.30" y="735.86" font-size="8.00" text-anchor="middle" fill="#111" textLength="4.03" lengthAdjust="spacingAndGlyphs" stroke="#111" stroke-width="0.22">1</text>
<text x="287.20" y="735.86" font-size="8.00" text-anchor="middle" fill="#111" textLength="4.03" lengthAdjust="spacingAndGlyphs" stroke="#111" stroke-width="0.22">1</text>
<text x="50.80" y="741.33" font-size="4.00" text-anchor="end" fill="#8CD35A" font-weight="bold" textLength="43.80" lengthAdjust="spacingAndGlyphs" stroke="#8CD35A" stroke-width="0.2">ADT+DTX, FOXJ1_High</text>
<line x1="51.50" y1="739.90" x2="52.90" y2="739.90" stroke="#333" stroke-width="0.7"/>
<text x="64.00" y="742.76" font-size="8.00" text-anchor="middle" fill="#111" textLength="8.06" lengthAdjust="spacingAndGlyphs" stroke="#111" stroke-width="0.22">20</text>
<text x="91.90" y="742.76" font-size="8.00" text-anchor="middle" fill="#111" textLength="8.06" lengthAdjust="spacingAndGlyphs" stroke="#111" stroke-width="0.22">12</text>
<text x="119.80" y="742.76" font-size="8.00" text-anchor="middle" fill="#111" textLength="4.03" lengthAdjust="spacingAndGlyphs" stroke="#111" stroke-width="0.22">5</text>
<text x="147.70" y="742.76" font-size="8.00" text-anchor="middle" fill="#111" textLength="4.03" lengthAdjust="spacingAndGlyphs" stroke="#111" stroke-width="0.22">3</text>
<text x="175.60" y="742.76" font-size="8.00" text-anchor="middle" fill="#111" textLength="4.03" lengthAdjust="spacingAndGlyphs" stroke="#111" stroke-width="0.22">3</text>
<text x="203.50" y="742.76" font-size="8.00" text-anchor="middle" fill="#111" textLength="4.03" lengthAdjust="spacingAndGlyphs" stroke="#111" stroke-width="0.22">1</text>
<text x="231.40" y="742.76" font-size="8.00" text-anchor="middle" fill="#111" textLength="4.03" lengthAdjust="spacingAndGlyphs" stroke="#111" stroke-width="0.22">1</text>
<text x="259.30" y="742.76" font-size="8.00" text-anchor="middle" fill="#111" textLength="4.03" lengthAdjust="spacingAndGlyphs" stroke="#111" stroke-width="0.22">0</text>
<text x="287.20" y="742.76" font-size="8.00" text-anchor="middle" fill="#111" textLength="4.03" lengthAdjust="spacingAndGlyphs" stroke="#111" stroke-width="0.22">0</text>
<text x="48.50" y="748.03" font-size="4.00" text-anchor="end" fill="#00E6FF" font-weight="bold" textLength="32.10" lengthAdjust="spacingAndGlyphs" stroke="#00E6FF" stroke-width="0.2">ADT, FOXJ1_Low</text>
<line x1="51.50" y1="746.60" x2="52.90" y2="746.60" stroke="#333" stroke-width="0.7"/>
<text x="64.00" y="749.46" font-size="8.00" text-anchor="middle" fill="#111" textLength="8.06" lengthAdjust="spacingAndGlyphs" stroke="#111" stroke-width="0.22">55</text>
<text x="91.90" y="749.46" font-size="8.00" text-anchor="middle" fill="#111" textLength="8.06" lengthAdjust="spacingAndGlyphs" stroke="#111" stroke-width="0.22">22</text>
<text x="119.80" y="749.46" font-size="8.00" text-anchor="middle" fill="#111" textLength="4.03" lengthAdjust="spacingAndGlyphs" stroke="#111" stroke-width="0.22">9</text>
<text x="147.70" y="749.46" font-size="8.00" text-anchor="middle" fill="#111" textLength="4.03" lengthAdjust="spacingAndGlyphs" stroke="#111" stroke-width="0.22">5</text>
<text x="175.60" y="749.46" font-size="8.00" text-anchor="middle" fill="#111" textLength="4.03" lengthAdjust="spacingAndGlyphs" stroke="#111" stroke-width="0.22">4</text>
<text x="203.50" y="749.46" font-size="8.00" text-anchor="middle" fill="#111" textLength="4.03" lengthAdjust="spacingAndGlyphs" stroke="#111" stroke-width="0.22">1</text>
<text x="231.40" y="749.46" font-size="8.00" text-anchor="middle" fill="#111" textLength="4.03" lengthAdjust="spacingAndGlyphs" stroke="#111" stroke-width="0.22">0</text>
<text x="259.30" y="749.46" font-size="8.00" text-anchor="middle" fill="#111" textLength="4.03" lengthAdjust="spacingAndGlyphs" stroke="#111" stroke-width="0.22">0</text>
<text x="287.20" y="749.46" font-size="8.00" text-anchor="middle" fill="#111" textLength="4.03" lengthAdjust="spacingAndGlyphs" stroke="#111" stroke-width="0.22">0</text>
<text x="50.80" y="754.83" font-size="4.00" text-anchor="end" fill="#D633FF" font-weight="bold" textLength="33.30" lengthAdjust="spacingAndGlyphs" stroke="#D633FF" stroke-width="0.2">ADT, FOXJ1_High</text>
<line x1="51.50" y1="753.40" x2="52.90" y2="753.40" stroke="#333" stroke-width="0.7"/>
<text x="64.00" y="756.26" font-size="8.00" text-anchor="middle" fill="#111" textLength="8.06" lengthAdjust="spacingAndGlyphs" stroke="#111" stroke-width="0.22">18</text>
<text x="91.90" y="756.26" font-size="8.00" text-anchor="middle" fill="#111" textLength="8.06" lengthAdjust="spacingAndGlyphs" stroke="#111" stroke-width="0.22">10</text>
<text x="119.80" y="756.26" font-size="8.00" text-anchor="middle" fill="#111" textLength="4.03" lengthAdjust="spacingAndGlyphs" stroke="#111" stroke-width="0.22">5</text>
<text x="147.70" y="756.26" font-size="8.00" text-anchor="middle" fill="#111" textLength="4.03" lengthAdjust="spacingAndGlyphs" stroke="#111" stroke-width="0.22">2</text>
<text x="175.60" y="756.26" font-size="8.00" text-anchor="middle" fill="#111" textLength="4.03" lengthAdjust="spacingAndGlyphs" stroke="#111" stroke-width="0.22">2</text>
<text x="203.50" y="756.26" font-size="8.00" text-anchor="middle" fill="#111" textLength="4.03" lengthAdjust="spacingAndGlyphs" stroke="#111" stroke-width="0.22">1</text>
<text x="231.40" y="756.26" font-size="8.00" text-anchor="middle" fill="#111" textLength="4.03" lengthAdjust="spacingAndGlyphs" stroke="#111" stroke-width="0.22">1</text>
<text x="259.30" y="756.26" font-size="8.00" text-anchor="middle" fill="#111" textLength="4.03" lengthAdjust="spacingAndGlyphs" stroke="#111" stroke-width="0.22">1</text>
<text x="287.20" y="756.26" font-size="8.00" text-anchor="middle" fill="#111" textLength="4.03" lengthAdjust="spacingAndGlyphs" stroke="#111" stroke-width="0.22">0</text>
<line x1="64.00" y1="757.30" x2="64.00" y2="758.50" stroke="#333" stroke-width="0.6"/>
<text x="64.00" y="763.73" font-size="5.40" text-anchor="middle" fill="#444" textLength="2.72" lengthAdjust="spacingAndGlyphs" stroke="#444" stroke-width="0.05">0</text>
<line x1="91.90" y1="757.30" x2="91.90" y2="758.50" stroke="#333" stroke-width="0.6"/>
<text x="91.90" y="763.73" font-size="5.40" text-anchor="middle" fill="#444" textLength="5.44" lengthAdjust="spacingAndGlyphs" stroke="#444" stroke-width="0.05">10</text>
<line x1="119.80" y1="757.30" x2="119.80" y2="758.50" stroke="#333" stroke-width="0.6"/>
<text x="119.80" y="763.73" font-size="5.40" text-anchor="middle" fill="#444" textLength="5.44" lengthAdjust="spacingAndGlyphs" stroke="#444" stroke-width="0.05">20</text>
<line x1="147.70" y1="757.30" x2="147.70" y2="758.50" stroke="#333" stroke-width="0.6"/>
<text x="147.70" y="763.73" font-size="5.40" text-anchor="middle" fill="#444" textLength="5.44" lengthAdjust="spacingAndGlyphs" stroke="#444" stroke-width="0.05">30</text>
<line x1="175.60" y1="757.30" x2="175.60" y2="758.50" stroke="#333" stroke-width="0.6"/>
<text x="175.60" y="763.73" font-size="5.40" text-anchor="middle" fill="#444" textLength="5.44" lengthAdjust="spacingAndGlyphs" stroke="#444" stroke-width="0.05">40</text>
<line x1="203.50" y1="757.30" x2="203.50" y2="758.50" stroke="#333" stroke-width="0.6"/>
<text x="203.50" y="763.73" font-size="5.40" text-anchor="middle" fill="#444" textLength="5.44" lengthAdjust="spacingAndGlyphs" stroke="#444" stroke-width="0.05">50</text>
<line x1="231.40" y1="757.30" x2="231.40" y2="758.50" stroke="#333" stroke-width="0.6"/>
<text x="231.40" y="763.73" font-size="5.40" text-anchor="middle" fill="#444" textLength="5.44" lengthAdjust="spacingAndGlyphs" stroke="#444" stroke-width="0.05">60</text>
<line x1="259.30" y1="757.30" x2="259.30" y2="758.50" stroke="#333" stroke-width="0.6"/>
<text x="259.30" y="763.73" font-size="5.40" text-anchor="middle" fill="#444" textLength="5.44" lengthAdjust="spacingAndGlyphs" stroke="#444" stroke-width="0.05">70</text>
<line x1="287.20" y1="757.30" x2="287.20" y2="758.50" stroke="#333" stroke-width="0.6"/>
<text x="287.20" y="763.73" font-size="5.40" text-anchor="middle" fill="#444" textLength="5.44" lengthAdjust="spacingAndGlyphs" stroke="#444" stroke-width="0.05">80</text>
<text x="175.50" y="770.09" font-size="6.40" text-anchor="middle" fill="#000" textLength="96.80" lengthAdjust="spacingAndGlyphs" stroke="#000" stroke-width="0.22">Progression–Free–Survival (months)</text>
<text x="334.80" y="522.94" font-size="24.00" text-anchor="start" fill="#000" font-weight="bold" textLength="13.63" lengthAdjust="spacingAndGlyphs">F</text>
<text x="489.00" y="547.80" font-size="7.40" text-anchor="middle" fill="#000" font-weight="bold" textLength="224.60" lengthAdjust="spacingAndGlyphs" stroke="#000" stroke-width="0.2">FOXJ1,CHAARTED(n=151)−High=top%25(&gt;Q4),Low=bottom%75(&lt;=Q4)</text>
<line x1="373.50" y1="564.30" x2="383.40" y2="564.30" stroke="#F8766D" stroke-width="1.3"/>
<line x1="378.45" y1="561.50" x2="378.45" y2="567.10" stroke="#F8766D" stroke-width="1.3"/>
<text x="392.60" y="564.75" font-size="6.00" text-anchor="start" fill="#FF0000" font-weight="bold" textLength="26.10" lengthAdjust="spacingAndGlyphs" stroke="#FF0000" stroke-width="0.2">ADT+DTX,</text>
<text x="392.60" y="570.95" font-size="6.00" text-anchor="start" fill="#FF0000" font-weight="bold" textLength="30.00" lengthAdjust="spacingAndGlyphs" stroke="#FF0000" stroke-width="0.2">FOXJ1_Low</text>
<line x1="439.30" y1="564.30" x2="449.20" y2="564.30" stroke="#7CAE00" stroke-width="1.3" stroke-dasharray="4 0.8"/>
<line x1="444.25" y1="561.50" x2="444.25" y2="567.10" stroke="#7CAE00" stroke-width="1.3"/>
<text x="460.30" y="564.75" font-size="6.00" text-anchor="start" fill="#8CD35A" font-weight="bold" textLength="25.60" lengthAdjust="spacingAndGlyphs" stroke="#8CD35A" stroke-width="0.2">ADT+DTX,</text>
<text x="460.30" y="570.95" font-size="6.00" text-anchor="start" fill="#8CD35A" font-weight="bold" textLength="31.10" lengthAdjust="spacingAndGlyphs" stroke="#8CD35A" stroke-width="0.2">FOXJ1_High</text>
<line x1="504.90" y1="564.30" x2="514.90" y2="564.30" stroke="#00BFC4" stroke-width="1.3" stroke-dasharray="5 1.5"/>
<line x1="509.90" y1="561.50" x2="509.90" y2="567.10" stroke="#00BFC4" stroke-width="1.3"/>
<text x="526.20" y="564.15" font-size="6.00" text-anchor="start" fill="#00E6FF" font-weight="bold" textLength="11.00" lengthAdjust="spacingAndGlyphs" stroke="#00E6FF" stroke-width="0.2">ADT</text>
<text x="526.20" y="570.35" font-size="6.00" text-anchor="start" fill="#00E6FF" font-weight="bold" textLength="29.70" lengthAdjust="spacingAndGlyphs" stroke="#00E6FF" stroke-width="0.2">FOXJ1_Low</text>
<line x1="570.80" y1="564.30" x2="578.30" y2="564.30" stroke="#C77CFF" stroke-width="1.3"/>
<line x1="574.55" y1="561.50" x2="574.55" y2="567.10" stroke="#C77CFF" stroke-width="1.3"/>
<text x="592.60" y="564.15" font-size="6.00" text-anchor="start" fill="#D633FF" font-weight="bold" textLength="11.00" lengthAdjust="spacingAndGlyphs" stroke="#D633FF" stroke-width="0.2">ADT</text>
<text x="592.60" y="570.35" font-size="6.00" text-anchor="start" fill="#D633FF" font-weight="bold" textLength="31.10" lengthAdjust="spacingAndGlyphs" stroke="#D633FF" stroke-width="0.2">FOXJ1_High</text>
<text transform="translate(348.00,631.70) rotate(-90)" x="0" y="0" font-size="5.35" text-anchor="middle" fill="#222" textLength="44.80" lengthAdjust="spacingAndGlyphs" stroke="#222" stroke-width="0.05">Survival probability</text>
<line x1="372.10" y1="573.00" x2="372.10" y2="699.52" stroke="#777" stroke-width="1.05"/>
<line x1="371.58" y1="699.00" x2="629.00" y2="699.00" stroke="#777" stroke-width="1.05"/>
<line x1="370.60" y1="578.10" x2="372.10" y2="578.10" stroke="#111" stroke-width="1.0"/>
<text x="369.30" y="580.53" font-size="6.80" text-anchor="end" fill="#111" textLength="11.99" lengthAdjust="spacingAndGlyphs" stroke="#111" stroke-width="0.22">1.00</text>
<line x1="370.60" y1="606.98" x2="372.10" y2="606.98" stroke="#111" stroke-width="1.0"/>
<text x="369.30" y="609.41" font-size="6.80" text-anchor="end" fill="#111" textLength="11.99" lengthAdjust="spacingAndGlyphs" stroke="#111" stroke-width="0.22">0.75</text>
<line x1="370.60" y1="635.85" x2="372.10" y2="635.85" stroke="#111" stroke-width="1.0"/>
<text x="369.30" y="638.28" font-size="6.80" text-anchor="end" fill="#111" textLength="11.99" lengthAdjust="spacingAndGlyphs" stroke="#111" stroke-width="0.22">0.50</text>
<line x1="370.60" y1="664.73" x2="372.10" y2="664.73" stroke="#111" stroke-width="1.0"/>
<text x="369.30" y="667.16" font-size="6.80" text-anchor="end" fill="#111" textLength="11.99" lengthAdjust="spacingAndGlyphs" stroke="#111" stroke-width="0.22">0.25</text>
<line x1="370.60" y1="693.60" x2="372.10" y2="693.60" stroke="#111" stroke-width="1.0"/>
<text x="369.30" y="696.03" font-size="6.80" text-anchor="end" fill="#111" textLength="11.99" lengthAdjust="spacingAndGlyphs" stroke="#111" stroke-width="0.22">0.00</text>
<line x1="383.50" y1="699.00" x2="383.50" y2="700.50" stroke="#111" stroke-width="1.0"/>
<text x="383.50" y="707.33" font-size="6.80" text-anchor="middle" fill="#111" textLength="3.43" lengthAdjust="spacingAndGlyphs" stroke="#111" stroke-width="0.22">0</text>
<line x1="412.80" y1="699.00" x2="412.80" y2="700.50" stroke="#111" stroke-width="1.0"/>
<text x="412.80" y="707.33" font-size="6.80" text-anchor="middle" fill="#111" textLength="6.85" lengthAdjust="spacingAndGlyphs" stroke="#111" stroke-width="0.22">10</text>
<line x1="442.10" y1="699.00" x2="442.10" y2="700.50" stroke="#111" stroke-width="1.0"/>
<text x="442.10" y="707.33" font-size="6.80" text-anchor="middle" fill="#111" textLength="6.85" lengthAdjust="spacingAndGlyphs" stroke="#111" stroke-width="0.22">20</text>
<line x1="471.40" y1="699.00" x2="471.40" y2="700.50" stroke="#111" stroke-width="1.0"/>
<text x="471.40" y="707.33" font-size="6.80" text-anchor="middle" fill="#111" textLength="6.85" lengthAdjust="spacingAndGlyphs" stroke="#111" stroke-width="0.22">30</text>
<line x1="500.70" y1="699.00" x2="500.70" y2="700.50" stroke="#111" stroke-width="1.0"/>
<text x="500.70" y="707.33" font-size="6.80" text-anchor="middle" fill="#111" textLength="6.85" lengthAdjust="spacingAndGlyphs" stroke="#111" stroke-width="0.22">40</text>
<line x1="530.00" y1="699.00" x2="530.00" y2="700.50" stroke="#111" stroke-width="1.0"/>
<text x="530.00" y="707.33" font-size="6.80" text-anchor="middle" fill="#111" textLength="6.85" lengthAdjust="spacingAndGlyphs" stroke="#111" stroke-width="0.22">50</text>
<line x1="559.30" y1="699.00" x2="559.30" y2="700.50" stroke="#111" stroke-width="1.0"/>
<text x="559.30" y="707.33" font-size="6.80" text-anchor="middle" fill="#111" textLength="6.85" lengthAdjust="spacingAndGlyphs" stroke="#111" stroke-width="0.22">60</text>
<line x1="588.60" y1="699.00" x2="588.60" y2="700.50" stroke="#111" stroke-width="1.0"/>
<text x="588.60" y="707.33" font-size="6.80" text-anchor="middle" fill="#111" textLength="6.85" lengthAdjust="spacingAndGlyphs" stroke="#111" stroke-width="0.22">70</text>
<line x1="617.90" y1="699.00" x2="617.90" y2="700.50" stroke="#111" stroke-width="1.0"/>
<text x="617.90" y="707.33" font-size="6.80" text-anchor="middle" fill="#111" textLength="6.85" lengthAdjust="spacingAndGlyphs" stroke="#111" stroke-width="0.22">80</text>
<text x="500.50" y="714.65" font-size="6.00" text-anchor="middle" fill="#000" textLength="67.80" lengthAdjust="spacingAndGlyphs" stroke="#000" stroke-width="0.22">Overall–Survival (months)</text>
<path d="M383.50,578.10 L405.86,578.10 L405.86,580.29 L427.42,580.29 L429.50,580.29 L429.50,582.72 L432.43,582.72 L432.43,585.15 L438.88,585.15 L438.88,586.76 L438.88,590.69 L463.49,590.69 L464.51,590.69 L464.51,592.77 L465.54,592.77 L465.54,594.85 L467.00,594.85 L467.00,596.41 L468.47,596.41 L468.47,597.97 L470.23,597.97 L470.23,603.05 L478.14,603.05 L478.14,608.94 L595.05,608.94" fill="none" stroke="#F8766D" stroke-width="1.5" stroke-linejoin="miter"/>
<path d="M397.31,578.10H401.92M399.62,575.80V580.40M400.10,578.10H404.70M402.40,575.80V580.40M405.23,580.29H409.83M407.53,577.99V582.59M409.33,580.29H413.93M411.63,577.99V582.59M416.65,580.29H421.25M418.95,577.99V582.59M420.17,580.29H424.77M422.47,577.99V582.59M425.15,580.33H429.75M427.45,578.03V582.63M429.55,584.66H434.15M431.85,582.36V586.96M433.35,585.95H437.95M435.65,583.65V588.25M435.40,586.47H440.00M437.70,584.17V588.77M441.85,590.69H446.45M444.15,588.39V592.99M445.37,590.69H449.97M447.67,588.39V592.99M449.18,590.69H453.78M451.48,588.39V592.99M453.57,590.69H458.17M455.87,588.39V592.99M457.67,590.69H462.27M459.97,588.39V592.99M460.90,590.69H465.50M463.20,588.39V592.99M466.17,597.97H470.77M468.47,595.67V600.27M469.98,603.05H474.58M472.28,600.75V605.35M473.20,603.05H477.80M475.50,600.75V605.35M484.34,608.94H488.94M486.64,606.64V611.24M485.21,608.94H489.81M487.51,606.64V611.24M497.23,608.94H501.83M499.53,606.64V611.24M499.87,608.94H504.47M502.17,606.64V611.24M503.38,608.94H507.98M505.68,606.64V611.24M520.67,608.94H525.27M522.97,606.64V611.24M535.32,608.94H539.92M537.62,606.64V611.24M541.47,608.94H546.07M543.77,606.64V611.24M557.00,608.94H561.60M559.30,606.64V611.24M592.75,608.94H597.35M595.05,606.64V611.24" fill="none" stroke="#F8766D" stroke-width="1.5"/>
<path d="M383.50,578.10 L405.18,578.10 L405.18,583.88 L408.90,583.88 L408.90,589.88 L431.26,589.88 L431.26,597.62 L439.76,597.62 L439.76,605.70 L458.51,605.70 L458.51,615.29 L526.48,615.29 L526.48,632.85 L527.95,632.85 L527.95,646.94 L552.27,646.94 L552.27,668.77 L553.73,668.77 L553.73,693.60" fill="none" stroke="#7CAE00" stroke-width="1.5" stroke-dasharray="3 2.9" stroke-linejoin="miter"/>
<path d="M387.65,578.10H392.25M389.95,575.80V580.40M408.74,589.88H413.34M411.04,587.58V592.18M423.69,589.88H428.29M425.99,587.58V592.18M426.62,589.88H431.22M428.92,587.58V592.18M439.51,605.70H444.11M441.81,603.40V608.00M450.93,605.70H455.53M453.23,603.40V608.00M467.63,615.29H472.24M469.94,612.99V617.59M488.14,615.29H492.75M490.44,612.99V617.59M527.99,646.94H532.59M530.29,644.64V649.24" fill="none" stroke="#7CAE00" stroke-width="1.5"/>
<path d="M383.50,578.10 L389.07,578.10 L389.63,578.10 L389.63,580.14 L390.20,580.14 L390.20,582.18 L390.77,582.18 L390.77,584.22 L395.51,584.22 L395.51,587.11 L398.15,587.11 L399.32,587.11 L399.32,588.84 L400.49,588.84 L400.49,590.57 L405.89,590.57 L405.89,593.46 L411.80,593.46 L412.23,593.46 L412.23,595.85 L412.66,595.85 L412.66,598.24 L413.09,598.24 L413.09,600.62 L418.95,600.62 L418.95,604.09 L431.85,604.09 L431.85,607.09 L440.34,607.09 L440.34,609.63 L441.71,609.63 L441.71,611.79 L443.08,611.79 L443.08,613.94 L444.44,613.94 L444.44,616.10 L446.50,616.10 L446.50,618.13 L448.55,618.13 L448.55,620.17 L450.60,620.17 L450.60,622.20 L452.65,622.20 L452.65,624.23 L454.70,624.23 L454.70,626.26 L456.57,626.26 L456.57,628.32 L458.45,628.32 L458.45,630.38 L460.32,630.38 L460.32,632.43 L462.20,632.43 L462.20,634.49 L464.07,634.49 L464.07,636.54 L470.81,636.54 L470.81,640.93 L476.38,640.93 L476.38,651.79 L488.10,651.79 L488.10,655.49 L499.24,655.49 L499.24,659.87 L512.42,659.87 L512.42,663.92 L520.92,663.92 L521.87,663.92 L521.87,666.02 L522.82,666.02 L522.82,668.13 L523.77,668.13 L523.77,670.24 L524.73,670.24 L524.73,672.35 L524.73,677.43 L617.02,677.43 L617.02,693.60" fill="none" stroke="#00BFC4" stroke-width="1.5" stroke-dasharray="5.5 2.1" stroke-linejoin="miter"/>
<path d="M389.70,584.22H394.30M392.00,581.92V586.52M406.69,593.46H411.29M408.99,591.16V595.76M415.77,600.62H420.37M418.07,598.32V602.92M423.69,604.09H428.29M425.99,601.79V606.39M425.74,604.09H430.34M428.04,601.79V606.39M428.67,604.09H433.27M430.97,601.79V606.39M442.44,616.39H447.04M444.74,614.09V618.69M447.42,621.33H452.02M449.72,619.03V623.63M458.84,633.33H463.44M461.14,631.03V635.63M469.69,640.93H474.29M471.99,638.63V643.23M474.08,640.93H478.68M476.38,638.63V643.23M495.76,655.49H500.36M498.06,653.19V657.78M522.43,672.35H527.03M524.73,670.05V674.65M539.13,677.43H543.73M541.43,675.13V679.73" fill="none" stroke="#00BFC4" stroke-width="1.5"/>
<path d="M383.50,578.10 L414.70,578.10 L414.70,585.26 L430.97,585.26 L430.97,592.88 L449.43,592.88 L449.43,609.40 L537.91,609.40 L537.91,650.87 L566.92,650.87 L566.92,693.60" fill="none" stroke="#C77CFF" stroke-width="1.5" stroke-dasharray="7 3.5" stroke-linejoin="miter"/>
<path d="M393.80,578.10H398.40M396.10,575.80V580.40M407.86,578.10H412.46M410.16,575.80V580.40M416.36,585.26H420.96M418.66,582.96V587.56M432.77,592.88H437.37M435.07,590.58V595.18M450.93,609.40H455.53M453.23,607.10V611.70M471.44,609.40H476.04M473.74,607.10V611.70M485.21,609.40H489.81M487.51,607.10V611.70M529.75,609.40H534.35M532.05,607.10V611.70" fill="none" stroke="#C77CFF" stroke-width="1.5"/>
<text x="371.70" y="725.34" font-size="8.20" text-anchor="start" fill="#000" textLength="46.00" lengthAdjust="spacingAndGlyphs" stroke="#000" stroke-width="0.22">Number at risk</text>
<line x1="371.70" y1="729.70" x2="371.70" y2="758.95" stroke="#111" stroke-width="1.1"/>
<line x1="371.15" y1="758.40" x2="619.60" y2="758.40" stroke="#111" stroke-width="1.1"/>
<text x="367.90" y="735.23" font-size="4.00" text-anchor="end" fill="#FF0000" font-weight="bold" textLength="42.60" lengthAdjust="spacingAndGlyphs" stroke="#FF0000" stroke-width="0.2">ADT+DTX, FOXJ1_Low</text>
<line x1="370.30" y1="733.80" x2="371.70" y2="733.80" stroke="#333" stroke-width="0.7"/>
<text x="382.60" y="736.66" font-size="8.00" text-anchor="middle" fill="#111" textLength="8.06" lengthAdjust="spacingAndGlyphs" stroke="#111" stroke-width="0.22">58</text>
<text x="410.85" y="736.66" font-size="8.00" text-anchor="middle" fill="#111" textLength="8.06" lengthAdjust="spacingAndGlyphs" stroke="#111" stroke-width="0.22">52</text>
<text x="439.10" y="736.66" font-size="8.00" text-anchor="middle" fill="#111" textLength="8.06" lengthAdjust="spacingAndGlyphs" stroke="#111" stroke-width="0.22">34</text>
<text x="467.35" y="736.66" font-size="8.00" text-anchor="middle" fill="#111" textLength="8.06" lengthAdjust="spacingAndGlyphs" stroke="#111" stroke-width="0.22">18</text>
<text x="495.60" y="736.66" font-size="8.00" text-anchor="middle" fill="#111" textLength="4.03" lengthAdjust="spacingAndGlyphs" stroke="#111" stroke-width="0.22">8</text>
<text x="523.85" y="736.66" font-size="8.00" text-anchor="middle" fill="#111" textLength="4.03" lengthAdjust="spacingAndGlyphs" stroke="#111" stroke-width="0.22">4</text>
<text x="552.10" y="736.66" font-size="8.00" text-anchor="middle" fill="#111" textLength="4.03" lengthAdjust="spacingAndGlyphs" stroke="#111" stroke-width="0.22">1</text>
<text x="580.35" y="736.66" font-size="8.00" text-anchor="middle" fill="#111" textLength="4.03" lengthAdjust="spacingAndGlyphs" stroke="#111" stroke-width="0.22">1</text>
<text x="608.60" y="736.66" font-size="8.00" text-anchor="middle" fill="#111" textLength="4.03" lengthAdjust="spacingAndGlyphs" stroke="#111" stroke-width="0.22">0</text>
<text x="367.90" y="742.23" font-size="4.00" text-anchor="end" fill="#8CD35A" font-weight="bold" textLength="43.80" lengthAdjust="spacingAndGlyphs" stroke="#8CD35A" stroke-width="0.2">ADT+DTX, FOXJ1_High</text>
<line x1="370.30" y1="740.80" x2="371.70" y2="740.80" stroke="#333" stroke-width="0.7"/>
<text x="382.60" y="743.66" font-size="8.00" text-anchor="middle" fill="#111" textLength="8.06" lengthAdjust="spacingAndGlyphs" stroke="#111" stroke-width="0.22">20</text>
<text x="410.85" y="743.66" font-size="8.00" text-anchor="middle" fill="#111" textLength="8.06" lengthAdjust="spacingAndGlyphs" stroke="#111" stroke-width="0.22">15</text>
<text x="439.10" y="743.66" font-size="8.00" text-anchor="middle" fill="#111" textLength="8.06" lengthAdjust="spacingAndGlyphs" stroke="#111" stroke-width="0.22">11</text>
<text x="467.35" y="743.66" font-size="8.00" text-anchor="middle" fill="#111" textLength="4.03" lengthAdjust="spacingAndGlyphs" stroke="#111" stroke-width="0.22">6</text>
<text x="495.60" y="743.66" font-size="8.00" text-anchor="middle" fill="#111" textLength="4.03" lengthAdjust="spacingAndGlyphs" stroke="#111" stroke-width="0.22">5</text>
<text x="523.85" y="743.66" font-size="8.00" text-anchor="middle" fill="#111" textLength="4.03" lengthAdjust="spacingAndGlyphs" stroke="#111" stroke-width="0.22">3</text>
<text x="552.10" y="743.66" font-size="8.00" text-anchor="middle" fill="#111" textLength="4.03" lengthAdjust="spacingAndGlyphs" stroke="#111" stroke-width="0.22">0</text>
<text x="580.35" y="743.66" font-size="8.00" text-anchor="middle" fill="#111" textLength="4.03" lengthAdjust="spacingAndGlyphs" stroke="#111" stroke-width="0.22">0</text>
<text x="608.60" y="743.66" font-size="8.00" text-anchor="middle" fill="#111" textLength="4.03" lengthAdjust="spacingAndGlyphs" stroke="#111" stroke-width="0.22">0</text>
<text x="366.70" y="749.03" font-size="4.00" text-anchor="end" fill="#00E6FF" font-weight="bold" textLength="32.10" lengthAdjust="spacingAndGlyphs" stroke="#00E6FF" stroke-width="0.2">ADT, FOXJ1_Low</text>
<line x1="370.30" y1="747.60" x2="371.70" y2="747.60" stroke="#333" stroke-width="0.7"/>
<text x="382.60" y="750.46" font-size="8.00" text-anchor="middle" fill="#111" textLength="8.06" lengthAdjust="spacingAndGlyphs" stroke="#111" stroke-width="0.22">55</text>
<text x="410.85" y="750.46" font-size="8.00" text-anchor="middle" fill="#111" textLength="8.06" lengthAdjust="spacingAndGlyphs" stroke="#111" stroke-width="0.22">43</text>
<text x="439.10" y="750.46" font-size="8.00" text-anchor="middle" fill="#111" textLength="8.06" lengthAdjust="spacingAndGlyphs" stroke="#111" stroke-width="0.22">32</text>
<text x="467.35" y="750.46" font-size="8.00" text-anchor="middle" fill="#111" textLength="8.06" lengthAdjust="spacingAndGlyphs" stroke="#111" stroke-width="0.22">16</text>
<text x="495.60" y="750.46" font-size="8.00" text-anchor="middle" fill="#111" textLength="4.03" lengthAdjust="spacingAndGlyphs" stroke="#111" stroke-width="0.22">8</text>
<text x="523.85" y="750.46" font-size="8.00" text-anchor="middle" fill="#111" textLength="4.03" lengthAdjust="spacingAndGlyphs" stroke="#111" stroke-width="0.22">3</text>
<text x="552.10" y="750.46" font-size="8.00" text-anchor="middle" fill="#111" textLength="4.03" lengthAdjust="spacingAndGlyphs" stroke="#111" stroke-width="0.22">1</text>
<text x="580.35" y="750.46" font-size="8.00" text-anchor="middle" fill="#111" textLength="4.03" lengthAdjust="spacingAndGlyphs" stroke="#111" stroke-width="0.22">1</text>
<text x="608.60" y="750.46" font-size="8.00" text-anchor="middle" fill="#111" textLength="4.03" lengthAdjust="spacingAndGlyphs" stroke="#111" stroke-width="0.22">0</text>
<text x="367.90" y="755.63" font-size="4.00" text-anchor="end" fill="#D633FF" font-weight="bold" textLength="33.30" lengthAdjust="spacingAndGlyphs" stroke="#D633FF" stroke-width="0.2">ADT, FOXJ1_High</text>
<line x1="370.30" y1="754.20" x2="371.70" y2="754.20" stroke="#333" stroke-width="0.7"/>
<text x="382.60" y="757.06" font-size="8.00" text-anchor="middle" fill="#111" textLength="8.06" lengthAdjust="spacingAndGlyphs" stroke="#111" stroke-width="0.22">18</text>
<text x="410.85" y="757.06" font-size="8.00" text-anchor="middle" fill="#111" textLength="8.06" lengthAdjust="spacingAndGlyphs" stroke="#111" stroke-width="0.22">16</text>
<text x="439.10" y="757.06" font-size="8.00" text-anchor="middle" fill="#111" textLength="8.06" lengthAdjust="spacingAndGlyphs" stroke="#111" stroke-width="0.22">12</text>
<text x="467.35" y="757.06" font-size="8.00" text-anchor="middle" fill="#111" textLength="4.03" lengthAdjust="spacingAndGlyphs" stroke="#111" stroke-width="0.22">8</text>
<text x="495.60" y="757.06" font-size="8.00" text-anchor="middle" fill="#111" textLength="4.03" lengthAdjust="spacingAndGlyphs" stroke="#111" stroke-width="0.22">5</text>
<text x="523.85" y="757.06" font-size="8.00" text-anchor="middle" fill="#111" textLength="4.03" lengthAdjust="spacingAndGlyphs" stroke="#111" stroke-width="0.22">4</text>
<text x="552.10" y="757.06" font-size="8.00" text-anchor="middle" fill="#111" textLength="4.03" lengthAdjust="spacingAndGlyphs" stroke="#111" stroke-width="0.22">1</text>
<text x="580.35" y="757.06" font-size="8.00" text-anchor="middle" fill="#111" textLength="4.03" lengthAdjust="spacingAndGlyphs" stroke="#111" stroke-width="0.22">0</text>
<text x="608.60" y="757.06" font-size="8.00" text-anchor="middle" fill="#111" textLength="4.03" lengthAdjust="spacingAndGlyphs" stroke="#111" stroke-width="0.22">0</text>
<line x1="382.60" y1="758.40" x2="382.60" y2="759.60" stroke="#333" stroke-width="0.6"/>
<text x="382.60" y="764.83" font-size="5.40" text-anchor="middle" fill="#444" textLength="2.72" lengthAdjust="spacingAndGlyphs" stroke="#444" stroke-width="0.05">0</text>
<line x1="410.85" y1="758.40" x2="410.85" y2="759.60" stroke="#333" stroke-width="0.6"/>
<text x="410.85" y="764.83" font-size="5.40" text-anchor="middle" fill="#444" textLength="5.44" lengthAdjust="spacingAndGlyphs" stroke="#444" stroke-width="0.05">10</text>
<line x1="439.10" y1="758.40" x2="439.10" y2="759.60" stroke="#333" stroke-width="0.6"/>
<text x="439.10" y="764.83" font-size="5.40" text-anchor="middle" fill="#444" textLength="5.44" lengthAdjust="spacingAndGlyphs" stroke="#444" stroke-width="0.05">20</text>
<line x1="467.35" y1="758.40" x2="467.35" y2="759.60" stroke="#333" stroke-width="0.6"/>
<text x="467.35" y="764.83" font-size="5.40" text-anchor="middle" fill="#444" textLength="5.44" lengthAdjust="spacingAndGlyphs" stroke="#444" stroke-width="0.05">30</text>
<line x1="495.60" y1="758.40" x2="495.60" y2="759.60" stroke="#333" stroke-width="0.6"/>
<text x="495.60" y="764.83" font-size="5.40" text-anchor="middle" fill="#444" textLength="5.44" lengthAdjust="spacingAndGlyphs" stroke="#444" stroke-width="0.05">40</text>
<line x1="523.85" y1="758.40" x2="523.85" y2="759.60" stroke="#333" stroke-width="0.6"/>
<text x="523.85" y="764.83" font-size="5.40" text-anchor="middle" fill="#444" textLength="5.44" lengthAdjust="spacingAndGlyphs" stroke="#444" stroke-width="0.05">50</text>
<line x1="552.10" y1="758.40" x2="552.10" y2="759.60" stroke="#333" stroke-width="0.6"/>
<text x="552.10" y="764.83" font-size="5.40" text-anchor="middle" fill="#444" textLength="5.44" lengthAdjust="spacingAndGlyphs" stroke="#444" stroke-width="0.05">60</text>
<line x1="580.35" y1="758.40" x2="580.35" y2="759.60" stroke="#333" stroke-width="0.6"/>
<text x="580.35" y="764.83" font-size="5.40" text-anchor="middle" fill="#444" textLength="5.44" lengthAdjust="spacingAndGlyphs" stroke="#444" stroke-width="0.05">70</text>
<line x1="608.60" y1="758.40" x2="608.60" y2="759.60" stroke="#333" stroke-width="0.6"/>
<text x="608.60" y="764.83" font-size="5.40" text-anchor="middle" fill="#444" textLength="5.44" lengthAdjust="spacingAndGlyphs" stroke="#444" stroke-width="0.05">80</text>
<text x="495.50" y="771.35" font-size="6.00" text-anchor="middle" fill="#000" textLength="68.30" lengthAdjust="spacingAndGlyphs" stroke="#000" stroke-width="0.22">Overall–Survival (months)</text>
</svg></body></html>
